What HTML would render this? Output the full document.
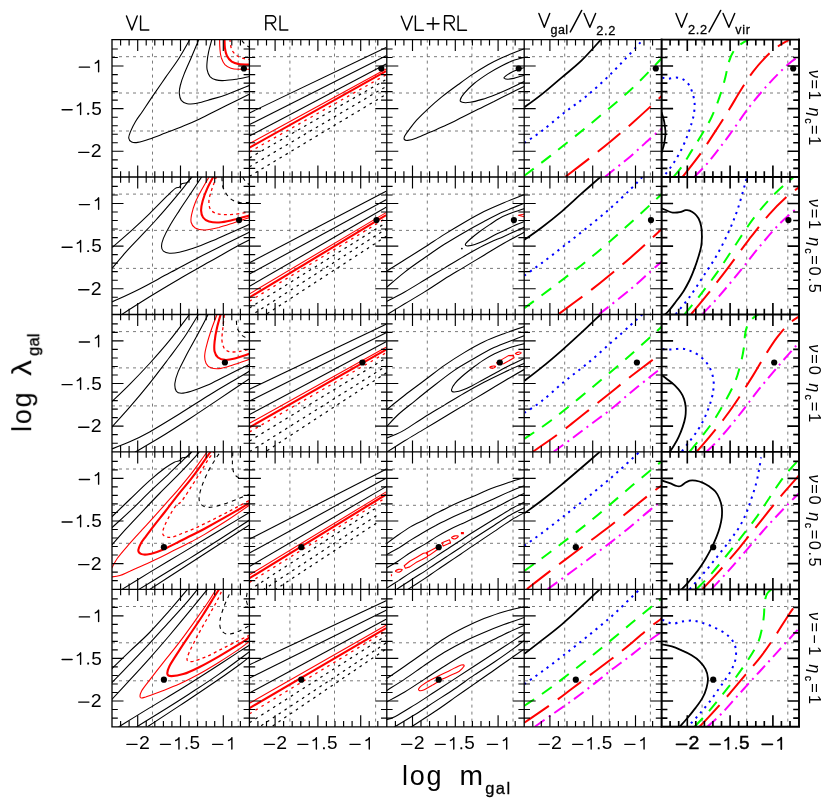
<!DOCTYPE html>
<html><head><meta charset="utf-8"><title>fig</title>
<style>html,body{margin:0;padding:0;background:#fff}body{width:830px;height:807px;position:relative;overflow:hidden;font-family:"Liberation Sans",sans-serif}</style>
</head><body>
<svg width="830" height="807" viewBox="0 0 830 807" style="position:absolute;left:0;top:0">
<rect width="830" height="807" fill="#fff"/>
<defs><clipPath id="c00"><rect x="112.0" y="39.6" width="137.4" height="137.4"/></clipPath><clipPath id="c01"><rect x="249.4" y="39.6" width="137.4" height="137.4"/></clipPath><clipPath id="c02"><rect x="386.8" y="39.6" width="137.4" height="137.4"/></clipPath><clipPath id="c03"><rect x="524.2" y="39.6" width="137.4" height="137.4"/></clipPath><clipPath id="c04"><rect x="661.6" y="39.6" width="137.4" height="137.4"/></clipPath><clipPath id="c10"><rect x="112.0" y="177.0" width="137.4" height="137.4"/></clipPath><clipPath id="c11"><rect x="249.4" y="177.0" width="137.4" height="137.4"/></clipPath><clipPath id="c12"><rect x="386.8" y="177.0" width="137.4" height="137.4"/></clipPath><clipPath id="c13"><rect x="524.2" y="177.0" width="137.4" height="137.4"/></clipPath><clipPath id="c14"><rect x="661.6" y="177.0" width="137.4" height="137.4"/></clipPath><clipPath id="c20"><rect x="112.0" y="314.5" width="137.4" height="137.4"/></clipPath><clipPath id="c21"><rect x="249.4" y="314.5" width="137.4" height="137.4"/></clipPath><clipPath id="c22"><rect x="386.8" y="314.5" width="137.4" height="137.4"/></clipPath><clipPath id="c23"><rect x="524.2" y="314.5" width="137.4" height="137.4"/></clipPath><clipPath id="c24"><rect x="661.6" y="314.5" width="137.4" height="137.4"/></clipPath><clipPath id="c30"><rect x="112.0" y="451.9" width="137.4" height="137.4"/></clipPath><clipPath id="c31"><rect x="249.4" y="451.9" width="137.4" height="137.4"/></clipPath><clipPath id="c32"><rect x="386.8" y="451.9" width="137.4" height="137.4"/></clipPath><clipPath id="c33"><rect x="524.2" y="451.9" width="137.4" height="137.4"/></clipPath><clipPath id="c34"><rect x="661.6" y="451.9" width="137.4" height="137.4"/></clipPath><clipPath id="c40"><rect x="112.0" y="589.4" width="137.4" height="137.4"/></clipPath><clipPath id="c41"><rect x="249.4" y="589.4" width="137.4" height="137.4"/></clipPath><clipPath id="c42"><rect x="386.8" y="589.4" width="137.4" height="137.4"/></clipPath><clipPath id="c43"><rect x="524.2" y="589.4" width="137.4" height="137.4"/></clipPath><clipPath id="c44"><rect x="661.6" y="589.4" width="137.4" height="137.4"/></clipPath></defs>
<path d="M152.5 39.6 V726.8M197.1 39.6 V726.8M238.2 39.6 V726.8M289.9 39.6 V726.8M334.5 39.6 V726.8M375.6 39.6 V726.8M427.3 39.6 V726.8M471.9 39.6 V726.8M513.0 39.6 V726.8M564.7 39.6 V726.8M609.3 39.6 V726.8M650.4 39.6 V726.8M702.1 39.6 V726.8M746.7 39.6 V726.8M787.8 39.6 V726.8M112.0 56.7 H799.0M112.0 93.0 H799.0M112.0 131.0 H799.0M112.0 194.1 H799.0M112.0 230.4 H799.0M112.0 268.4 H799.0M112.0 331.6 H799.0M112.0 367.9 H799.0M112.0 405.9 H799.0M112.0 469.0 H799.0M112.0 505.3 H799.0M112.0 543.3 H799.0M112.0 606.5 H799.0M112.0 642.8 H799.0M112.0 680.8 H799.0" stroke="#333" stroke-width="0.65" stroke-dasharray="3 4" fill="none"/>
<g clip-path="url(#c00)" fill="none" stroke-linecap="butt" stroke-linejoin="round">
<path d="M190.2 38.9C188.4 42.0 183.4 51.3 179.3 57.7C175.2 64.2 169.9 71.1 165.4 77.6C161.0 84.0 156.3 90.8 152.5 96.4C148.7 102.0 145.4 107.1 142.6 111.3C139.8 115.4 137.7 117.9 135.7 121.2C133.7 124.5 131.9 128.3 130.7 131.1C129.6 133.9 128.6 136.2 128.7 138.0C128.9 139.9 130.2 141.3 131.7 142.0C133.2 142.7 134.7 142.9 137.7 142.4C140.6 141.9 144.9 140.6 149.6 139.0C154.2 137.5 159.8 135.2 165.4 133.1C171.0 130.9 177.7 128.5 183.3 126.1C188.9 123.8 193.2 122.0 199.1 119.2C205.1 116.4 212.4 112.6 219.0 109.3C225.6 106.0 233.5 102.0 238.8 99.4C244.1 96.8 248.7 94.6 250.7 93.6" stroke="#000" stroke-width="1.1"/>
<path d="M199.1 38.9C197.8 42.0 193.7 52.0 191.2 57.7C188.7 63.5 186.1 69.0 184.3 73.6C182.4 78.2 181.1 82.2 180.3 85.5C179.5 88.8 179.1 90.9 179.3 93.4C179.5 95.9 180.0 98.6 181.3 100.4C182.6 102.1 184.6 103.2 187.2 103.7C189.9 104.2 193.2 104.1 197.1 103.3C201.1 102.6 206.1 100.9 211.0 99.4C216.0 97.9 220.3 96.8 226.9 94.4C233.5 92.0 246.7 86.5 250.7 84.9" stroke="#000" stroke-width="1.1"/>
<path d="M212.0 38.9C211.5 41.1 209.5 48.0 208.6 51.8C207.8 55.6 207.3 58.7 207.1 61.7C206.8 64.7 206.6 67.2 207.1 69.6C207.6 72.1 208.6 74.9 210.0 76.6C211.5 78.3 213.5 79.3 216.0 79.9C218.5 80.6 221.4 80.7 224.9 80.5C228.4 80.4 232.5 79.8 236.8 79.2C241.1 78.5 248.4 76.8 250.7 76.4" stroke="#000" stroke-width="1.1"/>
<path d="M219.6 38.9C219.6 40.7 219.7 46.7 220.0 49.8C220.2 52.9 220.5 55.3 221.3 57.7C222.2 60.2 223.3 62.9 224.9 64.7C226.5 66.4 228.5 67.5 230.9 68.2C233.2 69.0 235.5 69.1 238.8 69.2C242.1 69.4 248.7 69.2 250.7 69.2" stroke="#f00" stroke-width="1.1"/>
<path d="M224.5 38.9C224.6 40.4 224.5 45.0 224.9 47.8C225.3 50.6 225.7 53.4 226.9 55.8C228.0 58.1 229.9 60.3 231.8 61.7C233.8 63.1 235.6 63.6 238.8 64.1C241.9 64.6 248.7 64.6 250.7 64.7" stroke="#f00" stroke-width="2.1"/>
<path d="M229.9 38.9C230.1 40.6 230.5 46.2 231.4 48.8C232.4 51.5 234.1 53.2 235.8 54.8C237.5 56.3 239.3 57.3 241.8 58.1C244.2 59.0 249.2 59.5 250.7 59.7" stroke="#f00" stroke-width="1.3" stroke-dasharray="3 3.2"/>
<path d="M241.8 40.3C242.4 41.1 244.2 43.6 245.7 44.9C247.2 46.1 249.9 47.3 250.7 47.8" stroke="#000" stroke-width="1.1" stroke-dasharray="4 4"/>
</g>
<g clip-path="url(#c01)" fill="none" stroke-linecap="butt" stroke-linejoin="round">
<path d="M249.5 112.9 L386.1 47.4" stroke="#000" stroke-width="1.1"/>
<path d="M249.5 124.6 L386.1 55.8" stroke="#000" stroke-width="1.1"/>
<path d="M249.5 136.1 L386.1 63.9" stroke="#000" stroke-width="1.1"/>
<path d="M249.5 143.6 L386.1 69.0" stroke="#f00" stroke-width="1.1"/>
<path d="M249.5 147.6 L386.1 71.2" stroke="#f00" stroke-width="2.1"/>
<path d="M249.5 151.9 L386.1 74.8" stroke="#f00" stroke-width="1.3" stroke-dasharray="2.6 4.4"/>
<path d="M249.5 157.9 L386.1 79.5" stroke="#000" stroke-width="1.2" stroke-dasharray="2.6 4.4"/>
<path d="M249.5 166.8 L386.1 86.5" stroke="#000" stroke-width="1.2" stroke-dasharray="2.6 4.4"/>
<path d="M249.5 176.3 L386.1 94.4" stroke="#000" stroke-width="1.2" stroke-dasharray="2.6 4.4"/>
</g>
<g clip-path="url(#c02)" fill="none" stroke-linecap="butt" stroke-linejoin="round">
<path d="M525.7 48.2C523.7 49.0 517.8 51.2 513.8 52.8C509.8 54.4 506.2 55.8 501.9 57.7C497.6 59.7 493.0 61.9 488.0 64.7C483.1 67.5 477.1 71.3 472.1 74.6C467.2 77.9 463.2 80.9 458.3 84.5C453.3 88.1 447.5 92.3 442.4 96.4C437.3 100.5 431.8 105.3 427.5 109.3C423.2 113.3 419.8 116.7 416.6 120.2C413.5 123.7 410.7 127.5 408.7 130.1C406.7 132.8 405.5 134.5 404.7 136.1C404.0 137.6 403.8 138.7 404.3 139.4C404.8 140.2 405.7 140.6 407.7 140.4C409.8 140.2 412.8 139.4 416.6 138.0C420.4 136.6 425.6 134.2 430.5 132.1C435.5 129.9 441.1 127.6 446.4 125.1C451.7 122.7 456.9 119.9 462.2 117.2C467.5 114.6 472.8 111.9 478.1 109.3C483.4 106.6 488.7 104.0 494.0 101.4C499.2 98.7 504.5 96.0 509.8 93.4C515.1 90.8 523.0 87.0 525.7 85.7" stroke="#000" stroke-width="1.1"/>
<path d="M525.7 56.9C523.7 57.5 517.8 58.9 513.8 60.3C509.8 61.8 506.2 63.5 501.9 65.7C497.6 67.9 492.6 70.6 488.0 73.6C483.4 76.6 478.1 80.2 474.1 83.5C470.2 86.8 466.5 90.7 464.2 93.4C461.9 96.1 460.6 98.3 460.3 99.8C459.9 101.3 460.6 101.9 462.2 102.3C463.9 102.8 466.9 102.8 470.2 102.3C473.5 101.9 477.8 100.7 482.1 99.4C486.4 98.1 491.3 96.2 495.9 94.4C500.6 92.6 504.9 90.8 509.8 88.5C514.8 86.2 523.0 82.0 525.7 80.7" stroke="#000" stroke-width="1.1"/>
<path d="M525.7 67.3C524.4 67.7 520.4 68.6 517.8 69.6C515.1 70.6 512.0 72.0 509.8 73.2C507.7 74.4 505.8 75.7 504.9 76.6C503.9 77.4 503.8 77.9 504.3 78.4C504.8 78.8 506.3 79.2 507.8 79.2C509.4 79.2 511.8 78.8 513.8 78.4C515.8 77.9 517.8 77.2 519.7 76.6C521.7 76.0 524.7 75.1 525.7 74.8" stroke="#000" stroke-width="1.1"/>
</g>
<g clip-path="url(#c03)" fill="none" stroke-linecap="butt" stroke-linejoin="round">
<path d="M524.3 107.3C527.2 105.2 535.5 99.4 541.7 94.4C548.0 89.5 555.0 83.2 561.6 77.6C568.2 71.9 574.8 67.1 581.4 60.7C588.0 54.3 597.9 42.9 601.2 39.3" stroke="#000" stroke-width="1.8"/>
<path d="M524.3 143.0C527.2 141.0 535.2 136.1 541.7 131.1C548.3 126.1 555.9 119.2 563.5 113.3C571.1 107.3 579.4 102.0 587.3 95.4C595.3 88.8 603.9 80.7 611.1 73.6C618.4 66.5 626.0 58.1 631.0 52.8C635.9 47.5 638.9 44.1 640.9 41.9C642.9 39.7 642.5 39.9 642.9 39.5" stroke="#00f" stroke-width="2.0" stroke-dasharray="2.2 4.7"/>
<path d="M524.3 175.7C528.9 172.2 540.5 163.6 551.7 154.9C562.8 146.1 578.1 134.1 591.3 123.2C604.5 112.3 619.1 100.4 631.0 89.5C642.9 78.5 657.4 62.7 662.7 57.3" stroke="#0f0" stroke-width="2" stroke-dasharray="12 9.4"/>
<path d="M565.5 176.7C569.8 173.4 583.7 162.8 591.3 156.9C598.9 150.9 604.5 146.5 611.1 141.0C617.7 135.6 624.4 129.9 631.0 124.2C637.6 118.4 645.5 111.2 650.8 106.3C656.1 101.5 660.7 96.9 662.7 95.0" stroke="#f00" stroke-width="2" stroke-dasharray="29.5 11"/>
<path d="M605.2 176.7C609.5 173.2 623.4 162.3 631.0 155.9C638.6 149.4 645.5 142.7 650.8 138.0C656.1 133.3 660.7 129.4 662.7 127.7" stroke="#f0f" stroke-width="2" stroke-dasharray="12 5 2 5"/>
</g>
<g clip-path="url(#c04)" fill="none" stroke-linecap="butt" stroke-linejoin="round">
<path d="M661.5 112.3C661.9 113.7 663.4 117.7 664.1 121.2C664.7 124.7 665.5 129.3 665.5 133.1C665.5 136.9 664.7 140.7 664.1 144.0C663.4 147.3 661.9 151.4 661.5 152.9" stroke="#000" stroke-width="1.8"/>
<path d="M662.3 77.6C663.2 77.8 665.6 78.8 667.8 78.8C670.1 78.8 673.3 77.5 675.8 77.6C678.3 77.6 680.6 78.0 682.7 79.2C684.9 80.3 687.0 82.1 688.7 84.5C690.3 86.9 691.6 90.3 692.6 93.4C693.6 96.6 694.4 100.0 694.6 103.3C694.8 106.6 694.5 109.9 694.0 113.3C693.5 116.6 692.7 119.5 691.6 123.2C690.6 126.8 689.3 130.8 687.7 135.1C686.0 139.4 684.0 144.3 681.7 148.9C679.4 153.6 676.4 158.7 673.8 162.8C671.1 167.0 667.8 171.2 665.9 173.7C663.9 176.2 662.9 177.0 662.3 177.7" stroke="#00f" stroke-width="2.0" stroke-dasharray="2.2 4.7"/>
<path d="M673.8 176.7C675.1 175.0 678.7 171.1 681.7 166.8C684.7 162.5 688.3 156.2 691.6 150.9C694.9 145.6 698.2 140.7 701.5 135.1C704.9 129.4 708.5 123.5 711.5 117.2C714.4 110.9 717.1 104.0 719.4 97.4C721.7 90.8 723.9 83.2 725.3 77.6C726.8 71.9 727.0 68.0 728.3 63.7C729.6 59.4 731.1 55.1 733.3 51.8C735.4 48.5 738.6 45.9 741.2 43.9C743.8 41.8 747.8 40.2 749.1 39.5" stroke="#0f0" stroke-width="2" stroke-dasharray="12 9.4"/>
<path d="M682.7 176.7C685.5 173.1 694.1 162.5 699.6 154.9C705.0 147.3 710.5 138.7 715.4 131.1C720.4 123.5 725.0 116.2 729.3 109.3C733.6 102.3 737.2 95.7 741.2 89.5C745.2 83.2 748.8 77.2 753.1 71.6C757.4 66.0 762.7 60.1 767.0 55.8C771.3 51.5 775.1 48.6 778.9 45.8C782.7 43.1 788.0 40.6 789.8 39.5" stroke="#f00" stroke-width="2" stroke-dasharray="29.5 11"/>
<path d="M694.6 176.7C697.1 174.1 703.7 167.8 709.5 160.8C715.3 153.9 722.7 144.0 729.3 135.1C735.9 126.1 742.5 115.9 749.1 107.3C755.7 98.7 762.4 90.8 769.0 83.5C775.6 76.2 783.6 68.3 788.8 63.7C794.0 59.1 798.4 57.1 800.3 55.8" stroke="#f0f" stroke-width="2" stroke-dasharray="12 5 2 5"/>
</g>
<g clip-path="url(#c10)" fill="none" stroke-linecap="butt" stroke-linejoin="round">
<path d="M112.3 247.3C115.5 244.5 125.5 236.0 131.7 230.4C137.9 224.8 143.6 219.4 149.6 213.6C155.5 207.8 163.1 199.9 167.4 195.7C171.7 191.5 173.4 189.8 175.3 188.4C177.3 187.0 178.2 188.0 179.3 187.2C180.4 186.4 180.4 184.6 181.7 183.8C183.0 183.0 185.5 183.7 187.2 182.4C189.0 181.2 191.4 177.5 192.2 176.5" stroke="#000" stroke-width="1.1"/>
<path d="M112.3 268.1C114.5 265.5 121.2 257.4 125.8 252.2C130.3 247.1 134.7 242.7 139.7 237.4C144.6 232.1 150.6 226.0 155.5 220.5C160.5 215.1 164.8 210.1 169.4 204.7C174.0 199.2 179.5 192.5 183.3 187.8C187.1 183.1 190.7 178.4 192.2 176.5" stroke="#000" stroke-width="1.1"/>
<path d="M202.1 176.3C200.3 179.0 195.0 187.0 191.2 192.8C187.4 198.5 182.9 205.0 179.3 210.6C175.7 216.2 172.0 221.8 169.4 226.5C166.7 231.1 164.8 235.1 163.4 238.4C162.1 241.7 161.5 244.1 161.5 246.3C161.5 248.4 162.1 250.1 163.4 251.2C164.8 252.4 166.7 253.1 169.4 253.2C172.0 253.4 175.3 253.1 179.3 252.2C183.3 251.4 187.9 250.1 193.2 248.3C198.5 246.5 205.1 243.8 211.0 241.3C217.0 238.9 222.3 236.3 228.9 233.4C235.5 230.5 247.0 225.5 250.7 223.9" stroke="#000" stroke-width="1.1"/>
<path d="M111.5 302.2C116.2 300.0 130.0 293.8 139.7 288.9C149.3 284.1 159.5 278.3 169.4 273.1C179.3 267.8 189.2 262.3 199.1 257.2C209.0 252.1 220.3 246.6 228.9 242.3C237.5 238.1 247.0 233.4 250.7 231.6" stroke="#000" stroke-width="1.1"/>
<path d="M120.8 315.1C125.6 312.0 139.8 302.9 149.6 296.8C159.3 290.8 169.4 284.8 179.3 279.0C189.2 273.2 199.1 267.8 209.0 262.1C219.0 256.5 231.8 249.1 238.8 245.3C245.7 241.5 248.7 240.2 250.7 239.2" stroke="#000" stroke-width="1.1"/>
<path d="M209.4 176.3C208.1 178.7 203.5 186.4 201.1 190.8C198.7 195.2 196.8 198.7 195.2 202.7C193.6 206.6 192.3 211.3 191.6 214.6C190.9 217.9 190.6 220.2 191.2 222.5C191.8 224.7 192.9 226.8 195.2 228.0C197.5 229.3 201.1 230.1 205.1 230.0C209.0 229.9 214.0 228.7 219.0 227.5C223.9 226.2 229.5 224.2 234.8 222.5C240.1 220.8 248.0 218.0 250.7 217.1" stroke="#f00" stroke-width="1.1"/>
<path d="M213.6 176.3C212.5 178.4 208.9 184.7 207.1 188.8C205.2 192.9 203.7 197.1 202.7 200.7C201.7 204.3 201.0 207.8 201.1 210.6C201.2 213.4 201.8 215.7 203.1 217.5C204.4 219.4 206.4 220.7 209.0 221.5C211.7 222.3 215.3 222.7 219.0 222.5C222.6 222.3 225.6 221.7 230.9 220.5C236.1 219.3 247.4 216.1 250.7 215.2" stroke="#f00" stroke-width="2.1"/>
<path d="M216.6 176.3C215.8 178.4 213.3 184.9 212.0 188.8C210.8 192.7 209.4 196.4 209.0 199.7C208.7 203.0 209.0 206.4 210.0 208.6C211.0 210.8 212.8 212.0 215.0 213.0C217.1 214.0 219.6 214.4 222.9 214.6C226.2 214.8 230.2 214.6 234.8 214.2C239.4 213.7 248.0 212.2 250.7 211.8" stroke="#f00" stroke-width="1.3" stroke-dasharray="3 3.2"/>
<path d="M221.9 177.3C222.1 178.9 222.1 183.9 222.9 186.8C223.8 189.7 225.2 192.5 226.9 194.7C228.5 197.0 230.5 199.0 232.8 200.3C235.2 201.6 237.8 202.3 240.8 202.7C243.7 203.0 249.0 202.3 250.7 202.3" stroke="#000" stroke-width="1.1" stroke-dasharray="4 4"/>
<path d="M242.8 177.3C243.3 178.2 245.0 181.1 246.3 182.4C247.6 183.8 250.0 184.8 250.7 185.2" stroke="#000" stroke-width="1.1" stroke-dasharray="4 4"/>
</g>
<g clip-path="url(#c11)" fill="none" stroke-linecap="butt" stroke-linejoin="round">
<path d="M249.5 262.7 L386.1 191.2" stroke="#000" stroke-width="1.1"/>
<path d="M249.5 274.0 L386.1 199.7" stroke="#000" stroke-width="1.1"/>
<path d="M249.5 286.3 L386.1 207.2" stroke="#000" stroke-width="1.1"/>
<path d="M249.5 293.9 L386.1 212.6" stroke="#f00" stroke-width="1.1"/>
<path d="M249.5 297.4 L386.1 215.2" stroke="#f00" stroke-width="2.1"/>
<path d="M249.5 301.2 L386.1 218.1" stroke="#f00" stroke-width="1.3" stroke-dasharray="2.6 4.4"/>
<path d="M249.5 307.9 L386.7 222.3" stroke="#000" stroke-width="1.2" stroke-dasharray="2.6 4.4"/>
<path d="M249.5 316.5 L386.7 228.6" stroke="#000" stroke-width="1.2" stroke-dasharray="2.6 4.4"/>
<path d="M249.5 325.2 L386.7 236.0" stroke="#000" stroke-width="1.2" stroke-dasharray="2.6 4.4"/>
</g>
<g clip-path="url(#c12)" fill="none" stroke-linecap="butt" stroke-linejoin="round">
<path d="M385.9 271.5C389.0 269.5 398.3 263.8 404.7 259.8C411.2 255.7 418.0 251.5 424.6 247.3C431.2 243.1 437.8 238.5 444.4 234.4C451.0 230.3 457.6 226.3 464.2 222.5C470.8 218.7 477.4 214.9 484.0 211.6C490.7 208.3 496.9 205.6 503.9 202.7C510.8 199.8 522.0 195.6 525.7 194.1" stroke="#000" stroke-width="1.1"/>
<path d="M385.9 287.9C389.0 285.3 398.3 277.1 404.7 272.1C411.2 267.0 418.0 262.4 424.6 257.8C431.2 253.2 437.8 248.5 444.4 244.3C451.0 240.1 457.6 236.2 464.2 232.4C470.8 228.6 477.4 225.0 484.0 221.5C490.7 218.0 496.9 214.7 503.9 211.6C510.8 208.5 522.0 204.2 525.7 202.7" stroke="#000" stroke-width="1.1"/>
<path d="M385.9 301.8C389.0 300.2 398.3 295.5 404.7 291.9C411.2 288.3 418.0 284.0 424.6 280.0C431.2 276.0 437.8 272.1 444.4 268.1C451.0 264.1 457.6 260.0 464.2 256.2C470.8 252.4 477.4 248.6 484.0 245.3C490.7 242.0 496.9 239.5 503.9 236.4C510.8 233.2 522.0 228.1 525.7 226.5" stroke="#000" stroke-width="1.1"/>
<path d="M385.9 315.3C389.0 313.4 398.3 307.7 404.7 303.8C411.2 299.9 418.0 296.0 424.6 291.9C431.2 287.8 437.8 283.1 444.4 279.0C451.0 274.9 457.6 271.1 464.2 267.1C470.8 263.1 477.4 259.2 484.0 255.2C490.7 251.2 496.9 247.3 503.9 243.3C510.8 239.3 522.0 233.4 525.7 231.4" stroke="#000" stroke-width="1.1"/>
<path d="M525.3 208.3C522.7 209.2 513.8 212.1 509.5 213.7C505.2 215.4 502.9 216.3 499.6 218.2C496.3 220.0 493.0 222.4 489.7 224.6C486.3 226.8 483.0 229.1 479.7 231.5C476.4 234.0 472.1 237.5 469.8 239.5C467.5 241.5 466.6 242.5 465.9 243.4C465.2 244.4 465.2 245.0 465.7 245.4C466.1 245.8 466.8 246.1 468.3 245.9C469.9 245.8 472.1 245.3 474.8 244.4C477.5 243.5 481.4 242.0 484.7 240.5C488.0 238.9 491.3 236.7 494.6 235.0C497.9 233.4 501.2 232.1 504.5 230.6C507.8 229.0 511.0 227.2 514.4 225.6C517.9 224.0 523.5 221.9 525.3 221.1" stroke="#000" stroke-width="1.1"/>
<path d="M525.3 214.0 L518.4 215.2 L525.3 217.1" stroke="#f00" stroke-width="1.1"/>
</g>
<g clip-path="url(#c13)" fill="none" stroke-linecap="butt" stroke-linejoin="round">
<path d="M524.3 239.9C527.2 237.9 535.5 232.2 541.7 227.5C548.0 222.7 555.0 217.2 561.6 211.6C568.2 206.0 574.8 199.6 581.4 193.7C588.0 187.9 597.9 179.2 601.2 176.3" stroke="#000" stroke-width="1.8"/>
<path d="M524.3 275.6C527.2 273.6 535.2 268.0 541.7 263.1C548.3 258.3 555.9 252.2 563.5 246.3C571.1 240.3 579.4 233.9 587.3 227.5C595.3 221.0 603.9 214.1 611.1 207.6C618.4 201.2 625.7 194.0 631.0 188.8C636.2 183.6 640.9 178.4 642.9 176.3" stroke="#00f" stroke-width="2.0" stroke-dasharray="2.2 4.7"/>
<path d="M524.3 308.1C528.9 304.8 540.5 296.4 551.7 287.9C562.8 279.4 578.1 268.1 591.3 257.2C604.5 246.3 619.1 233.2 631.0 222.5C642.9 211.8 657.4 198.0 662.7 193.2" stroke="#0f0" stroke-width="2" stroke-dasharray="12 9.4"/>
<path d="M558.6 314.1C564.0 310.1 582.5 296.6 591.3 289.9C600.1 283.2 604.5 279.5 611.1 274.0C617.7 268.6 624.4 263.0 631.0 257.2C637.6 251.4 645.5 244.2 650.8 239.3C656.1 234.5 660.7 229.9 662.7 228.0" stroke="#f00" stroke-width="2" stroke-dasharray="29.5 11"/>
<path d="M599.2 314.1C604.5 309.9 622.4 296.1 631.0 288.9C639.6 281.7 645.5 275.8 650.8 271.1C656.1 266.4 660.7 262.5 662.7 260.8" stroke="#f0f" stroke-width="2" stroke-dasharray="12 5 2 5"/>
</g>
<g clip-path="url(#c14)" fill="none" stroke-linecap="butt" stroke-linejoin="round">
<path d="M660.9 208.0C662.1 208.5 665.9 210.2 667.8 211.0C669.8 211.8 670.8 212.4 672.8 212.6C674.8 212.8 677.6 212.6 679.7 212.2C681.9 211.8 684.0 210.5 685.7 210.2C687.3 209.9 688.2 210.0 689.7 210.6C691.1 211.2 693.1 212.3 694.6 213.6C696.1 214.9 697.5 216.4 698.6 218.5C699.7 220.7 700.6 223.5 701.2 226.5C701.7 229.4 701.9 233.1 701.9 236.4C701.9 239.7 701.7 243.0 701.2 246.3C700.6 249.6 699.7 252.6 698.6 256.2C697.5 259.8 696.1 264.1 694.6 268.1C693.1 272.1 691.5 276.2 689.7 280.0C687.8 283.8 686.0 287.3 683.7 290.9C681.4 294.5 678.3 298.5 675.8 301.8C673.3 305.1 670.8 308.5 668.8 310.7C666.9 313.0 664.7 314.5 663.9 315.3" stroke="#000" stroke-width="1.8"/>
<path d="M675.8 314.1C678.1 311.2 685.0 303.2 689.7 296.8C694.3 290.5 698.9 283.1 703.5 276.0C708.2 268.9 713.1 261.8 717.4 254.2C721.7 246.6 726.0 237.7 729.3 230.4C732.6 223.2 734.9 217.2 737.2 210.6C739.5 204.0 741.5 196.5 743.2 190.8C744.8 185.1 746.5 178.7 747.1 176.3" stroke="#00f" stroke-width="2.0" stroke-dasharray="2.2 4.7"/>
<path d="M684.7 314.1C687.2 311.1 694.1 302.9 699.6 295.9C705.0 288.8 711.8 280.0 717.4 272.1C723.0 264.1 728.0 256.2 733.3 248.3C738.6 240.3 744.2 231.4 749.1 224.5C754.1 217.5 758.4 212.1 763.0 206.6C767.6 201.2 771.8 196.7 776.9 191.8C782.0 186.8 790.9 179.4 793.7 176.9" stroke="#0f0" stroke-width="2" stroke-dasharray="12 9.4"/>
<path d="M691.2 314.1C694.3 310.4 703.1 299.9 709.5 291.9C715.8 283.9 722.7 274.9 729.3 266.1C735.9 257.4 742.5 247.9 749.1 239.3C755.7 230.8 762.7 221.7 769.0 214.6C775.2 207.5 781.6 201.4 786.8 196.7C792.0 192.0 798.0 188.1 800.3 186.4" stroke="#f00" stroke-width="2" stroke-dasharray="29.5 11"/>
<path d="M702.5 314.1C705.3 311.1 713.3 302.9 719.4 295.9C725.5 288.8 732.6 280.2 739.2 272.1C745.8 264.0 752.4 255.2 759.0 247.3C765.7 239.3 772.0 231.5 778.9 224.5C785.7 217.5 796.7 208.5 800.3 205.2" stroke="#f0f" stroke-width="2" stroke-dasharray="12 5 2 5"/>
</g>
<g clip-path="url(#c20)" fill="none" stroke-linecap="butt" stroke-linejoin="round">
<path d="M110.9 402.5C114.0 399.5 123.3 390.8 129.7 384.3C136.2 377.8 143.0 370.7 149.6 363.5C156.2 356.2 162.6 349.0 169.4 340.7C176.2 332.3 186.7 318.0 190.2 313.5" stroke="#000" stroke-width="1.1"/>
<path d="M110.9 428.1C114.0 424.6 123.3 414.5 129.7 407.1C136.2 399.6 143.0 391.5 149.6 383.3C156.2 375.0 163.4 365.4 169.4 357.5C175.3 349.6 180.3 343.1 185.3 335.7C190.2 328.3 196.8 317.0 199.1 313.3" stroke="#000" stroke-width="1.1"/>
<path d="M208.6 313.5C207.1 316.5 202.7 325.1 199.1 331.7C195.6 338.4 190.7 346.9 187.2 353.5C183.8 360.2 180.4 366.4 178.3 371.4C176.3 376.3 175.3 380.0 174.9 383.3C174.6 386.6 175.3 389.6 176.3 391.2C177.4 392.9 178.8 393.2 181.3 393.2C183.8 393.2 186.9 392.5 191.2 391.2C195.5 389.9 201.1 387.9 207.1 385.3C213.0 382.6 219.6 379.0 226.9 375.4C234.2 371.8 246.7 365.6 250.7 363.7" stroke="#000" stroke-width="1.1"/>
<path d="M110.9 449.3C114.0 448.1 123.3 444.7 129.7 441.8C136.2 438.9 141.3 436.5 149.6 431.9C157.8 427.2 169.4 420.1 179.3 414.0C189.2 407.9 200.8 400.3 209.0 395.2C217.3 390.1 221.9 387.4 228.9 383.3C235.8 379.2 247.0 372.5 250.7 370.4" stroke="#000" stroke-width="1.1"/>
<path d="M134.1 452.7C138.3 450.2 150.3 443.4 159.5 437.8C168.7 432.2 179.3 425.4 189.2 419.0C199.1 412.5 208.7 406.0 219.0 399.1C229.2 392.3 245.4 381.5 250.7 377.9" stroke="#000" stroke-width="1.1"/>
<path d="M217.4 313.5C216.5 315.9 213.7 322.8 212.0 327.8C210.3 332.8 208.3 339.0 207.1 343.6C205.8 348.3 204.8 352.2 204.7 355.5C204.5 358.8 205.0 361.4 206.1 363.5C207.1 365.5 208.6 367.0 211.0 367.8C213.5 368.7 217.3 368.9 220.9 368.4C224.6 368.0 227.9 366.6 232.8 365.0C237.8 363.5 247.7 359.9 250.7 358.9" stroke="#f00" stroke-width="1.1"/>
<path d="M220.9 313.5C220.3 315.9 218.0 323.1 217.0 327.8C215.9 332.5 215.0 337.7 214.6 341.7C214.2 345.6 214.0 348.9 214.6 351.6C215.2 354.2 216.2 356.1 218.0 357.5C219.7 358.9 222.1 359.7 224.9 359.9C227.7 360.1 230.5 359.6 234.8 358.5C239.1 357.4 248.0 354.2 250.7 353.4" stroke="#f00" stroke-width="2.1"/>
<path d="M224.3 314.9C224.1 317.0 223.3 323.6 222.9 327.8C222.5 331.9 221.8 336.4 221.9 339.7C222.1 343.0 222.8 345.6 223.9 347.6C225.1 349.6 226.4 350.9 228.9 351.6C231.4 352.2 235.2 352.0 238.8 351.6C242.4 351.1 248.7 349.3 250.7 348.8" stroke="#f00" stroke-width="1.3" stroke-dasharray="3 3.2"/>
<path d="M236.4 320.8C236.5 322.0 236.5 325.6 237.2 327.8C237.9 329.9 239.0 332.1 240.4 333.7C241.7 335.3 243.4 336.5 245.1 337.3C246.8 338.1 249.8 338.1 250.7 338.3" stroke="#000" stroke-width="1.1" stroke-dasharray="4 4"/>
</g>
<g clip-path="url(#c21)" fill="none" stroke-linecap="butt" stroke-linejoin="round">
<path d="M249.5 389.2 L386.1 324.2" stroke="#000" stroke-width="1.1"/>
<path d="M249.5 401.1 L386.1 332.7" stroke="#000" stroke-width="1.1"/>
<path d="M249.5 414.6 L386.1 341.7" stroke="#000" stroke-width="1.1"/>
<path d="M249.5 423.3 L386.1 347.2" stroke="#f00" stroke-width="1.1"/>
<path d="M249.5 427.3 L386.1 349.6" stroke="#f00" stroke-width="2.1"/>
<path d="M249.5 431.9 L386.1 352.8" stroke="#f00" stroke-width="1.3" stroke-dasharray="2.6 4.4"/>
<path d="M249.5 441.0 L386.7 357.7" stroke="#000" stroke-width="1.2" stroke-dasharray="2.6 4.4"/>
<path d="M249.5 451.7 L386.7 365.8" stroke="#000" stroke-width="1.2" stroke-dasharray="2.6 4.4"/>
<path d="M249.5 462.2 L386.7 372.6" stroke="#000" stroke-width="1.2" stroke-dasharray="2.6 4.4"/>
</g>
<g clip-path="url(#c22)" fill="none" stroke-linecap="butt" stroke-linejoin="round">
<path d="M385.9 410.3C389.0 407.7 398.3 400.2 404.7 395.2C411.2 390.2 418.0 385.3 424.6 380.3C431.2 375.4 437.8 370.1 444.4 365.4C451.0 360.8 457.6 356.5 464.2 352.6C470.8 348.6 477.4 344.8 484.0 341.7C490.7 338.5 496.9 336.3 503.9 333.7C510.8 331.1 522.0 327.4 525.7 326.2" stroke="#000" stroke-width="1.1"/>
<path d="M385.9 427.3C388.1 425.1 394.0 418.4 398.8 414.0C403.6 409.7 408.7 405.9 414.7 401.1C420.6 396.3 427.9 390.4 434.5 385.3C441.1 380.1 447.7 374.9 454.3 370.4C460.9 365.9 467.5 362.3 474.1 358.5C480.7 354.7 487.4 350.7 494.0 347.6C500.6 344.5 508.5 341.8 513.8 339.7C519.1 337.6 523.7 335.9 525.7 335.1" stroke="#000" stroke-width="1.1"/>
<path d="M385.9 438.4C387.4 437.8 391.7 436.3 394.8 434.8C398.0 433.4 399.8 432.9 404.7 429.9C409.7 426.9 418.0 421.1 424.6 417.0C431.2 412.9 437.8 409.1 444.4 405.1C451.0 401.1 457.6 397.0 464.2 393.2C470.8 389.4 477.4 385.8 484.0 382.3C490.7 378.8 496.9 375.7 503.9 372.4C510.8 369.1 522.0 364.3 525.7 362.7" stroke="#000" stroke-width="1.1"/>
<path d="M385.9 452.7C389.0 450.7 398.3 444.8 404.7 440.8C411.2 436.8 418.0 432.9 424.6 428.9C431.2 424.9 437.8 421.0 444.4 417.0C451.0 413.0 457.6 409.1 464.2 405.1C470.8 401.1 477.4 397.2 484.0 393.2C490.7 389.2 496.9 385.4 503.9 381.3C510.8 377.2 522.0 370.7 525.7 368.6" stroke="#000" stroke-width="1.1"/>
<path d="M525.3 343.5C522.7 344.2 514.6 346.0 509.5 347.7C504.4 349.4 499.1 351.5 494.6 353.7C490.1 355.8 486.5 358.1 482.7 360.6C478.9 363.1 475.3 365.9 471.8 368.5C468.3 371.2 464.7 374.0 461.9 376.5C459.1 378.9 456.6 381.3 455.0 383.4C453.3 385.5 452.2 387.5 451.8 388.9C451.3 390.2 451.5 391.0 452.2 391.5C452.9 392.0 454.3 392.0 455.9 391.8C457.6 391.6 459.3 391.3 461.9 390.3C464.5 389.3 468.3 387.6 471.8 385.9C475.3 384.1 478.9 382.0 482.7 379.9C486.5 377.9 490.1 375.9 494.6 373.5C499.1 371.1 504.4 368.1 509.5 365.6C514.6 363.0 522.7 359.3 525.3 358.0" stroke="#000" stroke-width="1.1"/>
<path d="M496.6 362.6 L508.5 355.6 L513.4 355.4 L514.1 357.8 L503.5 363.8 L497.6 364.3Z" stroke="#f00" stroke-width="1.1"/>
<path d="M489.7 367.3C489.6 367.0 491.6 366.2 492.6 366.1C493.6 365.9 495.6 366.2 495.6 366.5C495.6 366.9 493.8 368.2 492.8 368.3C491.8 368.5 489.7 367.7 489.7 367.3Z" stroke="#f00" stroke-width="1.1"/>
<path d="M515.4 353.5C515.4 353.1 517.4 352.2 518.4 352.1C519.4 351.9 521.1 352.3 521.2 352.7C521.2 353.1 519.6 354.3 518.6 354.5C517.6 354.6 515.5 353.9 515.4 353.5Z" stroke="#f00" stroke-width="1.1"/>
</g>
<g clip-path="url(#c23)" fill="none" stroke-linecap="butt" stroke-linejoin="round">
<path d="M524.3 380.9C527.2 378.7 535.5 372.5 541.7 367.4C548.0 362.4 555.0 356.4 561.6 350.6C568.2 344.8 574.7 338.9 581.4 332.7C588.1 326.6 598.2 316.7 601.6 313.5" stroke="#000" stroke-width="1.8"/>
<path d="M524.3 413.0C527.2 411.0 535.2 406.3 541.7 401.1C548.3 396.0 555.9 388.6 563.5 382.3C571.1 376.0 579.4 370.1 587.3 363.5C595.3 356.9 603.9 349.1 611.1 342.6C618.4 336.2 625.7 329.6 631.0 324.8C636.2 320.0 640.9 315.7 642.9 313.9" stroke="#00f" stroke-width="2.0" stroke-dasharray="2.2 4.7"/>
<path d="M524.3 438.8C528.9 435.7 540.5 428.4 551.7 420.0C562.8 411.5 578.1 399.1 591.3 388.2C604.5 377.3 619.1 364.9 631.0 354.5C642.9 344.1 657.4 330.6 662.7 325.8" stroke="#0f0" stroke-width="2" stroke-dasharray="12 9.4"/>
<path d="M532.8 451.7C536.0 449.5 545.2 443.4 551.7 438.8C558.1 434.2 564.9 429.1 571.5 423.9C578.1 418.8 584.7 413.4 591.3 408.1C597.9 402.8 604.5 397.5 611.1 392.2C617.7 386.9 624.2 381.6 631.0 376.3C637.7 371.1 646.5 364.6 651.8 360.5C657.1 356.4 660.9 353.1 662.7 351.6" stroke="#f00" stroke-width="2" stroke-dasharray="29.5 11"/>
<path d="M553.6 451.7C556.6 449.5 565.2 443.4 571.5 438.8C577.8 434.2 584.7 428.9 591.3 423.9C597.9 419.0 604.5 414.4 611.1 409.1C617.7 403.8 624.4 397.7 631.0 392.2C637.6 386.8 645.5 380.5 650.8 376.3C656.1 372.2 660.7 368.6 662.7 367.0" stroke="#f0f" stroke-width="2" stroke-dasharray="12 5 2 5"/>
</g>
<g clip-path="url(#c24)" fill="none" stroke-linecap="butt" stroke-linejoin="round">
<path d="M660.9 374.6C662.1 375.4 665.5 377.9 667.8 379.7C670.2 381.5 672.6 383.2 674.8 385.3C676.9 387.4 679.2 389.9 680.7 392.2C682.3 394.5 683.3 396.7 684.1 399.1C684.9 401.6 685.5 404.1 685.7 407.1C685.9 410.1 685.8 413.7 685.3 417.0C684.8 420.3 683.8 423.6 682.7 426.9C681.6 430.2 680.2 433.7 678.7 436.8C677.3 440.0 675.4 443.1 673.8 445.7C672.2 448.4 670.0 451.5 669.2 452.7" stroke="#000" stroke-width="1.8"/>
<path d="M662.3 349.0C663.9 349.1 668.6 349.6 671.8 349.6C675.0 349.5 678.7 348.4 681.7 348.6C684.7 348.8 687.0 349.6 689.7 350.6C692.3 351.6 694.9 352.7 697.6 354.5C700.2 356.4 703.4 359.0 705.5 361.5C707.7 364.0 709.1 366.4 710.5 369.4C711.8 372.4 712.9 376.0 713.4 379.3C713.9 382.6 713.8 385.9 713.4 389.2C713.1 392.5 712.5 395.5 711.5 399.1C710.5 402.8 709.1 406.9 707.5 411.0C705.8 415.2 703.7 420.0 701.5 423.9C699.4 427.9 696.9 431.5 694.6 434.8C692.3 438.1 689.8 441.0 687.7 443.8C685.5 446.6 682.7 450.4 681.7 451.7" stroke="#00f" stroke-width="2.0" stroke-dasharray="2.2 4.7"/>
<path d="M689.7 451.7C691.6 449.2 697.6 441.9 701.5 436.8C705.5 431.7 709.5 426.9 713.4 421.0C717.4 415.0 721.7 407.7 725.3 401.1C729.0 394.5 732.6 387.9 735.3 381.3C737.9 374.7 739.7 367.4 741.2 361.5C742.7 355.5 743.5 350.2 744.2 345.6C744.8 341.0 744.5 337.4 745.2 333.7C745.8 330.1 746.8 326.5 748.1 323.8C749.5 321.2 751.3 319.5 753.1 317.9C754.9 316.2 758.1 314.6 759.0 313.9" stroke="#0f0" stroke-width="2" stroke-dasharray="12 9.4"/>
<path d="M696.6 451.7C698.7 449.2 704.7 442.6 709.5 436.8C714.3 431.0 720.4 423.6 725.3 417.0C730.3 410.4 734.6 404.1 739.2 397.2C743.8 390.2 748.8 382.3 753.1 375.4C757.4 368.4 761.0 361.8 765.0 355.5C769.0 349.3 772.9 343.0 776.9 337.7C780.9 332.4 784.9 327.5 788.8 323.8C792.7 320.1 798.4 316.9 800.3 315.5" stroke="#f00" stroke-width="2" stroke-dasharray="29.5 11"/>
<path d="M706.5 451.7C708.7 449.5 713.9 444.9 719.4 438.8C724.8 432.7 732.6 423.3 739.2 415.0C745.8 406.8 752.4 397.5 759.0 389.2C765.7 381.0 772.0 373.5 778.9 365.4C785.7 357.4 796.7 345.0 800.3 340.9" stroke="#f0f" stroke-width="2" stroke-dasharray="12 5 2 5"/>
</g>
<g clip-path="url(#c30)" fill="none" stroke-linecap="butt" stroke-linejoin="round">
<path d="M110.9 517.7C114.0 514.7 123.3 505.7 129.7 499.5C136.2 493.3 143.6 485.9 149.6 480.6C155.5 475.4 161.3 470.8 165.4 467.8C169.6 464.7 172.0 463.4 174.3 462.2C176.7 461.0 178.0 461.5 179.3 460.8C180.6 460.1 181.0 458.5 182.3 457.8C183.6 457.2 185.6 457.9 187.2 456.9C188.9 455.8 191.4 452.2 192.2 451.3" stroke="#000" stroke-width="1.1"/>
<path d="M110.9 528.6C114.0 525.7 123.3 517.5 129.7 511.4C136.2 505.3 143.0 498.3 149.6 491.9C156.2 485.6 163.8 478.7 169.4 473.3C175.0 468.0 179.5 463.5 183.3 459.8C187.1 456.2 190.7 452.7 192.2 451.3" stroke="#000" stroke-width="1.1"/>
<path d="M110.9 546.1C113.4 543.3 121.0 534.5 125.8 529.2C130.6 523.9 134.0 520.3 139.7 514.3C145.3 508.4 152.9 500.3 159.5 493.5C166.1 486.8 173.4 479.8 179.3 473.7C185.3 467.6 191.8 460.6 195.2 456.9C198.6 453.1 199.0 452.2 199.7 451.3" stroke="#000" stroke-width="1.1"/>
<path d="M120.8 590.1C125.6 587.1 139.8 578.4 149.6 572.4C159.3 566.5 169.4 560.5 179.3 554.6C189.2 548.6 199.1 542.7 209.0 536.8C219.0 530.8 231.8 523.1 238.8 518.9C245.7 514.7 248.7 513.0 250.7 511.8" stroke="#000" stroke-width="1.1"/>
<path d="M137.7 590.1C141.3 587.9 150.9 582.1 159.5 576.8C168.1 571.5 179.3 564.7 189.2 558.6C199.1 552.4 208.7 546.3 219.0 539.7C229.2 533.2 245.4 522.7 250.7 519.3" stroke="#000" stroke-width="1.1"/>
<path d="M148.6 590.1C153.7 586.8 169.2 576.8 179.3 570.3C189.4 563.8 199.1 557.4 209.0 551.0C219.0 544.6 231.8 536.3 238.8 531.8C245.7 527.3 248.7 525.4 250.7 524.1" stroke="#000" stroke-width="1.1"/>
<path d="M249.6 505.0C246.2 507.4 236.3 514.4 228.9 519.3C221.5 524.1 211.2 530.4 205.0 534.1C198.8 537.8 196.0 539.2 191.7 541.5C187.4 543.8 183.4 545.6 179.3 547.7C175.2 549.8 171.1 551.8 167.0 553.9C162.9 556.0 158.7 558.1 154.6 560.1C150.5 562.1 146.3 563.8 142.2 565.7C138.1 567.6 133.5 569.6 129.8 571.3C126.1 572.9 123.1 574.6 119.9 575.6C116.7 576.6 112.1 576.8 110.5 577.0" stroke="#f00" stroke-width="1.1"/>
<path d="M110.5 570.5C111.7 568.5 114.2 562.7 117.4 558.2C120.6 553.7 125.7 548.1 129.8 543.4C133.9 538.6 138.1 534.2 142.2 529.7C146.3 525.2 150.6 520.6 154.6 516.1C158.6 511.6 162.5 507.3 166.4 502.9C170.3 498.5 174.2 494.3 178.2 489.6C182.2 484.9 186.8 479.4 190.5 474.7C194.2 469.9 197.7 465.0 200.5 461.1C203.3 457.2 206.4 452.9 207.6 451.2" stroke="#f00" stroke-width="1.1"/>
<path d="M211.0 451.0C209.2 453.5 203.9 461.3 200.5 466.1C197.1 470.9 194.2 474.9 190.5 479.7C186.8 484.4 182.4 489.3 178.2 494.6C174.0 499.9 169.1 506.5 165.2 511.5C161.3 516.5 157.8 520.7 154.6 524.8C151.4 528.9 148.2 533.2 145.9 536.3C143.6 539.4 142.2 541.0 140.9 543.4C139.6 545.8 138.3 548.8 138.3 550.5C138.3 552.2 139.4 553.2 140.9 553.9C142.4 554.6 144.4 554.8 147.1 554.5C149.8 554.2 153.7 553.1 157.0 552.0C160.3 550.9 163.3 549.5 167.0 547.7C170.7 546.0 175.2 543.6 179.3 541.5C183.4 539.4 187.4 537.5 191.7 535.3C196.0 533.1 197.2 532.8 205.0 528.5C212.8 524.2 231.3 513.8 238.8 509.4C246.3 505.0 248.3 503.6 250.2 502.4" stroke="#f00" stroke-width="2.1"/>
<path d="M215.0 450.5C213.8 452.1 210.3 456.3 207.9 459.9C205.5 463.5 203.2 468.0 200.5 472.3C197.8 476.6 194.9 481.1 191.8 485.9C188.7 490.6 184.6 497.4 181.9 500.8C179.2 504.2 177.7 503.6 175.6 506.2C173.5 508.8 171.2 512.8 169.4 516.1C167.6 519.4 165.6 523.1 164.5 526.0C163.4 528.9 162.4 531.7 162.6 533.5C162.8 535.3 164.1 536.0 165.7 536.6C167.2 537.2 169.2 537.7 171.9 537.2C174.6 536.7 178.5 534.8 181.8 533.5C185.1 532.2 187.8 531.4 191.7 529.7C195.6 528.0 198.8 526.5 205.0 523.5C211.2 520.5 221.4 515.3 228.9 511.4C236.4 507.5 246.6 501.9 250.2 500.0" stroke="#f00" stroke-width="1.3" stroke-dasharray="3 3.2"/>
<path d="M219.0 453.9C218.3 454.9 216.8 456.9 215.0 459.8C213.2 462.8 210.2 467.4 208.1 471.7C205.9 476.0 203.6 481.3 202.1 485.6C200.6 489.9 199.3 494.4 199.1 497.5C199.0 500.6 199.5 502.8 201.1 504.4C202.8 506.1 205.4 507.4 209.0 507.4C212.7 507.4 218.0 505.9 222.9 504.4C227.9 502.9 234.2 500.2 238.8 498.5C243.4 496.7 248.7 494.7 250.7 493.9" stroke="#000" stroke-width="1.1" stroke-dasharray="4 4"/>
<path d="M232.8 452.3C232.8 454.2 232.3 460.4 232.4 463.8C232.6 467.2 232.8 470.4 233.8 472.7C234.9 475.0 236.0 476.6 238.8 477.7C241.6 478.7 248.7 478.7 250.7 478.9" stroke="#000" stroke-width="1.1" stroke-dasharray="4 4"/>
</g>
<g clip-path="url(#c31)" fill="none" stroke-linecap="butt" stroke-linejoin="round">
<path d="M249.5 539.1 L386.1 469.3" stroke="#000" stroke-width="1.1"/>
<path d="M249.5 553.0 L386.1 478.3" stroke="#000" stroke-width="1.1"/>
<path d="M249.5 566.5 L386.1 486.6" stroke="#000" stroke-width="1.1"/>
<path d="M249.5 574.8 L386.1 491.9" stroke="#f00" stroke-width="1.1"/>
<path d="M249.5 578.2 L386.1 494.5" stroke="#f00" stroke-width="2.1"/>
<path d="M249.5 582.4 L386.1 497.5" stroke="#f00" stroke-width="1.3" stroke-dasharray="2.6 4.4"/>
<path d="M249.4 590.0 L378.8 506.2" stroke="#000" stroke-width="1.2" stroke-dasharray="2.6 4.4"/>
<path d="M263.0 590.0 L378.8 514.1" stroke="#000" stroke-width="1.2" stroke-dasharray="2.6 4.4"/>
<path d="M274.6 590.0 L377.0 522.7" stroke="#000" stroke-width="1.2" stroke-dasharray="2.6 4.4"/>
</g>
<g clip-path="url(#c32)" fill="none" stroke-linecap="butt" stroke-linejoin="round">
<path d="M385.5 544.3C387.7 542.7 394.4 537.7 398.6 534.8C402.8 531.8 406.5 529.2 410.9 526.6C415.3 524.1 420.8 521.7 425.0 519.5C429.1 517.3 431.5 515.7 435.7 513.6C439.8 511.4 445.0 508.9 449.7 506.6C454.5 504.4 460.5 501.7 464.2 500.1C467.9 498.4 467.2 498.9 472.1 496.8C477.1 494.7 487.4 490.1 494.0 487.6C500.6 485.0 506.4 483.2 511.7 481.4C517.0 479.7 523.4 478.0 525.7 477.3" stroke="#000" stroke-width="1.1"/>
<path d="M385.5 555.2C387.7 554.0 394.3 550.6 398.6 548.1C402.8 545.5 406.6 542.7 411.0 539.9C415.4 537.2 420.8 533.9 425.0 531.5C429.1 529.1 431.9 527.5 435.8 525.5C439.6 523.4 444.0 521.3 448.2 519.3C452.3 517.3 456.6 515.3 460.6 513.6C464.5 511.8 466.5 511.1 472.1 508.6C477.7 506.1 487.4 501.7 494.0 498.7C500.6 495.7 506.4 493.0 511.7 490.8C517.0 488.5 523.4 486.0 525.7 485.0" stroke="#000" stroke-width="1.1"/>
<path d="M385.5 568.5C387.7 567.2 394.3 563.5 398.6 560.7C402.8 558.0 406.6 555.0 411.0 552.2C415.4 549.4 420.8 546.6 425.0 544.1C429.1 541.6 431.9 539.5 435.8 537.1C439.6 534.8 444.0 532.4 448.2 530.2C452.3 528.1 456.6 526.1 460.6 524.3C464.5 522.4 466.5 521.8 472.1 519.1C477.7 516.5 487.4 511.7 494.0 508.4C500.6 505.1 506.4 501.9 511.7 499.3C517.0 496.7 523.4 493.8 525.7 492.7" stroke="#000" stroke-width="1.1"/>
<path d="M385.5 588.9C387.7 587.5 394.3 583.3 398.6 580.6C402.8 577.8 406.6 575.2 411.0 572.4C415.4 569.6 420.8 566.4 425.0 563.7C429.1 561.1 431.9 559.1 435.8 556.6C439.6 554.0 444.0 551.1 448.2 548.5C452.3 545.8 456.6 543.1 460.6 540.5C464.5 537.9 466.5 536.3 472.1 532.8C477.7 529.3 487.4 523.3 494.0 519.3C500.6 515.3 506.4 511.6 511.7 508.6C517.0 505.6 523.4 502.7 525.7 501.5" stroke="#000" stroke-width="1.1"/>
<path d="M395.4 590.1C398.0 588.4 406.1 583.1 411.0 580.0C415.9 576.8 420.8 573.8 425.0 571.1C429.1 568.3 431.9 566.3 435.8 563.7C439.6 561.1 444.0 558.3 448.2 555.6C452.3 552.9 456.6 550.1 460.6 547.5C464.5 544.8 466.5 543.3 472.1 539.6C477.7 535.9 487.4 529.7 494.0 525.5C500.6 521.2 506.4 517.2 511.7 514.2C517.0 511.1 523.4 508.2 525.7 507.0" stroke="#000" stroke-width="1.1"/>
<path d="M406.7 590.1C409.8 588.1 420.1 581.6 425.0 578.4C429.8 575.2 431.9 573.5 435.8 570.9C439.6 568.2 444.0 565.3 448.2 562.5C452.3 559.8 456.6 556.9 460.6 554.2C464.5 551.5 466.5 550.2 472.1 546.4C477.7 542.6 487.4 536.0 494.0 531.6C500.6 527.1 506.4 523.0 511.7 519.7C517.0 516.4 523.4 513.3 525.7 512.0" stroke="#000" stroke-width="1.1"/>
<path d="M390.9 575.3 L392.1 575.3" stroke="#f00" stroke-width="2.1"/>
<path d="M395.5 571.3C395.4 570.8 397.5 569.7 398.6 569.4C399.7 569.1 402.2 569.2 402.3 569.6C402.4 570.1 400.3 571.9 399.2 572.1C398.1 572.4 395.6 571.7 395.5 571.3Z" stroke="#f00" stroke-width="1.1"/>
<path d="M404.2 565.7 L409.7 561.3 L417.2 557.0 L423.4 553.3 L427.1 552.7 L427.7 556.4 L422.1 559.5 L415.9 562.6 L409.7 566.9 L405.4 568.2Z" stroke="#f00" stroke-width="1.1"/>
<path d="M426.5 552.7 L435.8 547.7 L438.5 548.7 L429.6 555.1 L427.7 555.5Z" stroke="#f00" stroke-width="1.1"/>
<path d="M442.0 542.8 L449.4 539.7 L450.6 542.8 L443.2 546.1Z" stroke="#f00" stroke-width="1.1"/>
<path d="M451.6 537.8C451.6 537.3 453.9 536.2 455.0 535.9C456.1 535.7 458.3 535.9 458.3 536.4C458.3 536.9 456.2 538.7 455.1 538.9C454.0 539.1 451.6 538.3 451.6 537.8Z" stroke="#f00" stroke-width="1.1"/>
<path d="M460.9 533.1 L463.9 533.1" stroke="#f00" stroke-width="2.1"/>
</g>
<g clip-path="url(#c33)" fill="none" stroke-linecap="butt" stroke-linejoin="round">
<path d="M524.3 513.4C527.2 511.2 535.5 505.3 541.7 500.5C548.0 495.7 555.0 490.1 561.6 484.6C568.2 479.2 574.9 473.3 581.4 467.8C587.9 462.2 597.4 453.9 600.6 451.1" stroke="#000" stroke-width="1.8"/>
<path d="M524.3 545.7C527.2 543.6 535.2 538.1 541.7 533.2C548.3 528.3 555.9 522.3 563.5 516.3C571.1 510.4 579.4 503.9 587.3 497.5C595.3 491.1 603.9 483.9 611.1 477.7C618.4 471.4 626.2 464.2 631.0 459.8C635.8 455.4 638.4 452.7 639.9 451.3" stroke="#00f" stroke-width="2.0" stroke-dasharray="2.2 4.7"/>
<path d="M524.3 570.9C528.9 567.6 540.5 559.5 551.7 551.0C562.8 542.6 578.1 531.0 591.3 520.3C604.5 509.6 619.1 496.6 631.0 486.6C642.9 476.6 657.4 464.8 662.7 460.4" stroke="#0f0" stroke-width="2" stroke-dasharray="12 9.4"/>
<path d="M526.9 589.1C531.0 585.9 544.2 575.5 551.7 569.9C559.1 564.2 564.9 560.0 571.5 555.0C578.1 550.0 584.7 545.1 591.3 540.1C597.9 535.2 604.5 530.4 611.1 525.3C617.7 520.1 624.4 514.7 631.0 509.4C637.6 504.1 645.5 497.6 650.8 493.5C656.1 489.4 660.7 486.3 662.7 484.8" stroke="#f00" stroke-width="2" stroke-dasharray="29.5 11"/>
<path d="M547.7 589.1C551.7 586.2 564.2 577.2 571.5 571.8C578.7 566.5 584.7 561.9 591.3 557.0C597.9 552.0 604.5 547.2 611.1 542.1C617.7 537.0 624.4 531.7 631.0 526.2C637.6 520.8 645.5 513.7 650.8 509.4C656.1 505.1 660.7 502.1 662.7 500.7" stroke="#f0f" stroke-width="2" stroke-dasharray="12 5 2 5"/>
</g>
<g clip-path="url(#c34)" fill="none" stroke-linecap="butt" stroke-linejoin="round">
<path d="M660.9 480.2C662.4 480.7 667.2 482.3 669.8 483.2C672.5 484.2 674.9 485.5 676.8 486.0C678.6 486.5 679.4 486.5 680.7 486.0C682.1 485.5 683.2 484.1 684.7 483.2C686.2 482.3 687.8 481.1 689.7 480.6C691.5 480.2 693.5 480.3 695.6 480.6C697.7 481.0 700.2 481.6 702.5 482.6C704.9 483.6 707.3 485.1 709.5 486.6C711.6 488.1 713.8 489.6 715.4 491.5C717.1 493.5 718.3 495.8 719.4 498.5C720.5 501.1 721.4 504.3 721.8 507.4C722.2 510.5 722.1 514.0 721.8 517.3C721.4 520.6 720.7 523.9 719.8 527.2C718.9 530.5 717.8 533.7 716.4 537.1C715.0 540.6 713.3 544.4 711.5 548.1C709.6 551.7 707.8 555.2 705.5 559.0C703.2 562.8 700.4 567.1 697.6 570.9C694.8 574.7 691.5 578.5 688.7 581.8C685.9 585.0 682.1 588.9 680.7 590.3" stroke="#000" stroke-width="1.8"/>
<path d="M689.7 589.1C691.6 586.9 697.3 580.8 701.5 575.8C705.8 570.8 710.8 564.7 715.4 559.0C720.1 553.2 725.3 546.4 729.3 541.1C733.3 535.8 736.4 531.9 739.2 527.2C742.0 522.6 744.2 518.0 746.2 513.4C748.1 508.7 749.5 504.4 751.1 499.5C752.8 494.5 754.8 488.6 756.1 483.6C757.4 478.7 758.2 474.1 759.0 469.7C759.9 465.4 760.7 459.5 761.0 457.4" stroke="#00f" stroke-width="2.0" stroke-dasharray="2.2 4.7"/>
<path d="M696.6 589.1C698.7 586.9 704.7 581.2 709.5 575.8C714.3 570.5 720.1 563.4 725.3 557.0C730.6 550.5 735.9 543.9 741.2 537.1C746.5 530.4 752.4 522.8 757.1 516.3C761.7 509.9 765.3 503.9 769.0 498.5C772.6 493.0 775.6 488.2 778.9 483.6C782.2 479.0 785.2 475.0 788.8 470.7C792.4 466.5 798.4 460.3 800.3 458.2" stroke="#0f0" stroke-width="2" stroke-dasharray="12 9.4"/>
<path d="M702.5 589.1C705.3 586.1 713.3 577.7 719.4 570.9C725.5 564.0 732.6 556.0 739.2 548.1C745.8 540.1 752.4 531.5 759.0 523.3C765.7 515.0 772.0 506.7 778.9 498.5C785.7 490.3 796.7 478.2 800.3 474.1" stroke="#f00" stroke-width="2" stroke-dasharray="29.5 11"/>
<path d="M711.5 589.1C714.4 585.9 723.0 576.9 729.3 569.9C735.6 562.9 742.5 554.7 749.1 547.1C755.7 539.5 762.4 531.5 769.0 524.3C775.6 517.0 783.6 508.8 788.8 503.4C794.0 498.1 798.4 493.9 800.3 491.9" stroke="#f0f" stroke-width="2" stroke-dasharray="12 5 2 5"/>
</g>
<g clip-path="url(#c40)" fill="none" stroke-linecap="butt" stroke-linejoin="round">
<path d="M110.9 669.6C114.0 666.5 123.3 657.5 129.7 651.3C136.2 645.2 143.0 639.3 149.6 632.5C156.2 625.7 162.9 618.0 169.4 610.7C175.8 603.4 185.1 592.2 188.2 588.5" stroke="#000" stroke-width="1.1"/>
<path d="M110.9 683.7C114.0 680.4 123.3 670.9 129.7 664.2C136.2 657.5 143.0 650.5 149.6 643.4C156.2 636.3 163.1 628.5 169.4 621.6C175.7 614.7 182.4 607.3 187.2 601.8C192.0 596.3 196.3 590.7 198.1 588.5" stroke="#000" stroke-width="1.1"/>
<path d="M110.9 700.5C114.0 697.1 123.3 687.1 129.7 680.1C136.2 673.1 143.0 665.7 149.6 658.3C156.2 650.9 162.8 643.3 169.4 635.5C176.0 627.7 182.8 619.5 189.2 611.7C195.7 603.9 204.9 592.4 208.1 588.5" stroke="#000" stroke-width="1.1"/>
<path d="M117.4 727.7C122.8 724.4 139.3 714.1 149.6 707.9C159.9 701.6 169.4 696.1 179.3 690.0C189.2 683.9 199.1 677.5 209.0 671.2C219.0 664.8 231.8 656.4 238.8 651.9C245.7 647.5 248.7 645.7 250.7 644.4" stroke="#000" stroke-width="1.1"/>
<path d="M135.1 727.7C139.2 725.2 150.5 718.4 159.5 712.8C168.5 707.2 179.3 700.4 189.2 694.0C199.1 687.5 208.7 681.4 219.0 674.1C229.2 666.9 245.4 654.7 250.7 650.8" stroke="#000" stroke-width="1.1"/>
<path d="M146.0 727.7C151.5 724.0 168.8 712.8 179.3 705.9C189.8 698.9 199.1 692.8 209.0 686.0C219.0 679.3 231.8 670.3 238.8 665.2C245.7 660.2 248.7 657.5 250.7 655.9" stroke="#000" stroke-width="1.1"/>
<path d="M216.6 588.5C215.3 590.5 212.6 595.4 209.0 600.8C205.5 606.1 200.1 613.7 195.2 620.6C190.2 627.6 184.6 635.5 179.3 642.4C174.0 649.4 168.4 656.0 163.4 662.3C158.5 668.5 153.2 675.3 149.6 680.1C145.9 684.9 143.2 688.1 141.6 691.0C140.1 693.9 139.8 696.6 140.4 697.5C141.1 698.5 142.4 697.9 145.6 697.0C148.8 696.0 153.9 694.1 159.5 692.0C165.1 689.8 172.7 687.0 179.3 684.1C185.9 681.1 192.5 677.8 199.1 674.1C205.7 670.5 212.4 666.4 219.0 662.3C225.6 658.1 233.5 653.0 238.8 649.4C244.1 645.7 248.7 641.9 250.7 640.4" stroke="#f00" stroke-width="1.1"/>
<path d="M219.6 588.5C218.5 590.2 215.8 594.4 213.0 598.8C210.3 603.2 206.7 609.1 203.1 614.7C199.5 620.3 195.2 626.6 191.2 632.5C187.2 638.5 182.9 644.7 179.3 650.4C175.7 656.0 171.4 662.3 169.4 666.2C167.4 670.2 167.1 672.5 167.4 674.1C167.7 675.8 168.7 676.1 171.4 676.1C174.0 676.1 178.6 675.6 183.3 674.1C187.9 672.7 193.2 670.2 199.1 667.2C205.1 664.2 212.4 660.1 219.0 656.3C225.6 652.5 233.5 647.7 238.8 644.4C244.1 641.1 248.7 637.8 250.7 636.5" stroke="#f00" stroke-width="2.1"/>
<path d="M221.3 591.9C220.4 593.7 218.4 598.3 216.0 602.8C213.6 607.2 210.2 613.0 207.1 618.6C203.9 624.3 200.1 630.9 197.1 636.5C194.2 642.1 190.9 648.4 189.2 652.3C187.6 656.3 186.6 658.8 187.2 660.3C187.9 661.8 189.9 661.9 193.2 661.3C196.5 660.6 202.1 658.5 207.1 656.3C212.0 654.2 217.6 651.0 222.9 648.4C228.2 645.7 234.2 642.7 238.8 640.4C243.4 638.2 248.7 635.7 250.7 634.7" stroke="#f00" stroke-width="1.3" stroke-dasharray="3 3.2"/>
<path d="M229.3 594.4C228.4 596.5 225.5 602.4 223.9 606.7C222.4 611.1 220.4 616.8 220.0 620.6C219.5 624.4 219.8 627.3 220.9 629.5C222.1 631.8 224.2 633.7 226.9 634.1C229.5 634.5 232.8 633.6 236.8 632.1C240.8 630.6 248.4 626.2 250.7 625.0" stroke="#000" stroke-width="1.1" stroke-dasharray="4 4"/>
<path d="M247.1 592.9C247.0 594.0 246.1 597.5 246.3 599.8C246.5 602.1 247.6 605.3 248.3 606.7C249.0 608.2 250.3 608.4 250.7 608.7" stroke="#000" stroke-width="1.1" stroke-dasharray="4 4"/>
</g>
<g clip-path="url(#c41)" fill="none" stroke-linecap="butt" stroke-linejoin="round">
<path d="M249.5 664.8 L386.1 600.8" stroke="#000" stroke-width="1.1"/>
<path d="M249.5 678.1 L386.1 610.3" stroke="#000" stroke-width="1.1"/>
<path d="M249.5 693.0 L386.1 619.2" stroke="#000" stroke-width="1.1"/>
<path d="M249.5 703.3 L386.1 625.2" stroke="#f00" stroke-width="1.1"/>
<path d="M249.5 708.1 L386.1 628.2" stroke="#f00" stroke-width="2.1"/>
<path d="M249.5 713.8 L386.1 630.9" stroke="#f00" stroke-width="1.3" stroke-dasharray="2.6 4.4"/>
<path d="M249.5 722.7 L386.1 635.7" stroke="#000" stroke-width="1.2" stroke-dasharray="2.6 4.4"/>
<path d="M249.5 733.4 L386.1 643.0" stroke="#000" stroke-width="1.2" stroke-dasharray="2.6 4.4"/>
<path d="M249.5 741.6 L386.1 649.0" stroke="#000" stroke-width="1.2" stroke-dasharray="2.6 4.4"/>
</g>
<g clip-path="url(#c42)" fill="none" stroke-linecap="butt" stroke-linejoin="round">
<path d="M385.9 679.1C389.0 677.0 398.3 670.7 404.7 666.2C411.2 661.8 418.0 657.0 424.6 652.3C431.2 647.7 437.8 642.6 444.4 638.5C451.0 634.3 457.6 630.9 464.2 627.6C470.8 624.3 477.4 621.3 484.0 618.6C490.7 616.0 496.9 613.7 503.9 611.7C510.8 609.6 522.0 607.2 525.7 606.3" stroke="#000" stroke-width="1.1"/>
<path d="M385.9 691.0C389.0 689.0 398.3 683.4 404.7 679.1C411.2 674.8 418.0 669.7 424.6 665.2C431.2 660.8 437.8 656.3 444.4 652.3C451.0 648.4 457.6 644.7 464.2 641.4C470.8 638.1 477.4 635.3 484.0 632.5C490.7 629.7 496.9 627.2 503.9 624.6C510.8 622.0 522.0 618.3 525.7 617.0" stroke="#000" stroke-width="1.1"/>
<path d="M385.9 702.3C389.0 700.6 398.3 695.9 404.7 692.0C411.2 688.1 418.0 683.4 424.6 679.1C431.2 674.8 437.8 670.3 444.4 666.2C451.0 662.1 457.6 658.0 464.2 654.3C470.8 650.7 477.4 647.7 484.0 644.4C490.7 641.1 496.9 637.8 503.9 634.5C510.8 631.2 522.0 626.4 525.7 624.8" stroke="#000" stroke-width="1.1"/>
<path d="M385.9 719.9C387.4 719.4 390.0 719.3 394.8 716.8C399.6 714.3 408.0 709.0 414.7 704.9C421.3 700.8 427.9 696.3 434.5 692.0C441.1 687.7 447.7 683.4 454.3 679.1C460.9 674.8 467.5 670.5 474.1 666.2C480.7 661.9 487.4 657.6 494.0 653.3C500.6 649.0 508.5 643.9 513.8 640.4C519.1 637.0 523.7 633.8 525.7 632.5" stroke="#000" stroke-width="1.1"/>
<path d="M393.2 727.7C396.8 725.5 407.8 719.1 414.7 714.8C421.5 710.5 427.9 706.2 434.5 701.9C441.1 697.6 447.7 693.5 454.3 689.0C460.9 684.6 467.5 679.6 474.1 675.1C480.7 670.7 487.4 666.7 494.0 662.3C500.6 657.8 508.5 652.2 513.8 648.4C519.1 644.5 523.7 640.8 525.7 639.3" stroke="#000" stroke-width="1.1"/>
<path d="M410.1 727.7C414.2 725.0 427.1 716.8 434.5 711.8C441.8 706.9 447.7 702.6 454.3 697.9C460.9 693.3 467.5 688.7 474.1 684.1C480.7 679.4 487.4 674.8 494.0 670.2C500.6 665.6 508.5 660.0 513.8 656.3C519.1 652.6 523.7 649.5 525.7 648.2" stroke="#000" stroke-width="1.1"/>
<path d="M418.6 689.0C418.9 688.2 419.6 687.1 421.6 685.6C423.6 684.2 427.4 681.8 430.5 680.1C433.7 678.3 437.1 676.8 440.4 675.1C443.7 673.5 447.4 671.7 450.3 670.2C453.3 668.7 456.1 667.1 458.3 666.2C460.4 665.3 462.3 664.8 463.2 664.8C464.2 664.9 464.5 665.6 463.8 666.6C463.2 667.7 461.3 669.8 459.3 671.2C457.2 672.6 454.1 673.8 451.3 675.1C448.5 676.5 445.5 677.5 442.4 679.1C439.3 680.8 435.6 683.2 432.5 685.1C429.4 686.9 425.7 689.1 423.6 690.0C421.4 690.9 420.4 690.8 419.6 690.6C418.8 690.4 418.3 689.8 418.6 689.0Z" stroke="#f00" stroke-width="1.1"/>
</g>
<g clip-path="url(#c43)" fill="none" stroke-linecap="butt" stroke-linejoin="round">
<path d="M524.3 653.9C527.2 651.7 535.5 645.3 541.7 640.4C548.0 635.6 555.0 630.2 561.6 624.6C568.2 619.0 574.9 612.8 581.4 606.7C587.9 600.7 597.4 591.5 600.6 588.5" stroke="#000" stroke-width="1.8"/>
<path d="M524.3 684.1C527.2 682.0 535.2 676.6 541.7 671.8C548.3 667.0 555.9 661.2 563.5 655.3C571.1 649.4 579.4 642.9 587.3 636.5C595.3 630.0 603.9 623.1 611.1 616.7C618.4 610.2 626.2 602.4 631.0 597.8C635.8 593.2 638.4 590.4 639.9 588.9" stroke="#00f" stroke-width="2.0" stroke-dasharray="2.2 4.7"/>
<path d="M524.3 705.9C528.9 702.7 540.5 695.3 551.7 687.0C562.8 678.8 578.1 666.9 591.3 656.3C604.5 645.7 619.1 633.4 631.0 623.6C642.9 613.8 657.4 601.8 662.7 597.4" stroke="#0f0" stroke-width="2" stroke-dasharray="12 9.4"/>
<path d="M524.3 722.7C528.9 719.6 543.8 709.5 551.7 703.9C559.5 698.3 564.9 694.0 571.5 689.0C578.1 684.1 584.7 679.1 591.3 674.1C597.9 669.2 604.5 664.4 611.1 659.3C617.7 654.2 624.4 648.9 631.0 643.4C637.6 638.0 645.5 630.8 650.8 626.6C656.1 622.3 660.7 619.3 662.7 617.8" stroke="#f00" stroke-width="2" stroke-dasharray="29.5 11"/>
<path d="M534.8 726.7C537.6 724.7 545.5 719.1 551.7 714.8C557.8 710.5 564.9 705.7 571.5 700.9C578.1 696.1 584.7 691.2 591.3 686.0C597.9 680.9 604.5 675.3 611.1 670.2C617.7 665.1 624.4 660.4 631.0 655.3C637.6 650.2 645.5 643.5 650.8 639.5C656.1 635.5 660.7 632.7 662.7 631.3" stroke="#f0f" stroke-width="2" stroke-dasharray="12 5 2 5"/>
</g>
<g clip-path="url(#c44)" fill="none" stroke-linecap="butt" stroke-linejoin="round">
<path d="M660.9 644.2C662.7 644.6 668.3 645.4 671.8 646.4C675.3 647.4 678.4 648.9 681.7 650.4C685.0 651.8 688.7 653.5 691.6 655.3C694.6 657.1 697.3 658.9 699.6 661.3C701.9 663.6 704.1 666.4 705.5 669.2C706.9 672.0 707.7 675.0 707.9 678.1C708.1 681.3 707.4 684.7 706.5 688.0C705.6 691.3 704.4 694.6 702.5 697.9C700.7 701.2 698.1 704.6 695.6 707.9C693.1 711.2 690.4 714.5 687.7 717.8C684.9 721.1 680.4 726.0 678.9 727.7" stroke="#000" stroke-width="1.8"/>
<path d="M662.3 619.6C663.2 620.1 665.9 621.5 667.8 622.2C669.8 622.9 671.5 623.7 673.8 623.6C676.1 623.5 678.7 622.1 681.7 621.6C684.7 621.1 688.3 620.5 691.6 620.6C694.9 620.8 697.9 621.5 701.5 622.6C705.2 623.7 709.5 625.1 713.4 627.0C717.4 628.8 722.2 631.3 725.3 633.5C728.5 635.8 730.6 638.0 732.3 640.4C734.0 642.9 735.1 645.4 735.7 648.4C736.2 651.3 736.2 655.0 735.7 658.3C735.1 661.6 733.8 664.9 732.3 668.2C730.7 671.5 728.5 674.8 726.3 678.1C724.2 681.4 722.2 684.1 719.4 688.0C716.6 692.0 712.8 697.6 709.5 701.9C706.2 706.2 702.5 710.3 699.6 713.8C696.6 717.3 693.6 720.6 691.6 722.7C689.7 724.9 688.3 726.0 687.7 726.7" stroke="#00f" stroke-width="2.0" stroke-dasharray="2.2 4.7"/>
<path d="M694.6 726.7C696.8 724.4 703.0 717.9 707.5 712.8C712.0 707.7 716.7 701.7 721.4 696.0C726.0 690.2 730.6 684.4 735.3 678.1C739.9 671.8 745.3 664.2 749.1 658.3C752.9 652.3 755.9 647.4 758.1 642.4C760.2 637.5 761.0 633.2 762.0 628.5C763.0 623.9 763.6 619.0 764.0 614.7C764.4 610.4 764.1 606.2 764.6 602.8C765.1 599.3 765.8 596.2 767.0 593.9C768.2 591.5 771.1 589.7 771.9 588.9" stroke="#0f0" stroke-width="2" stroke-dasharray="12 9.4"/>
<path d="M699.6 726.7C701.9 724.2 708.5 717.3 713.4 711.8C718.4 706.4 724.0 700.1 729.3 694.0C734.6 687.9 739.9 681.4 745.2 675.1C750.5 668.9 756.1 662.7 761.0 656.3C766.0 649.9 770.3 643.4 774.9 636.5C779.5 629.5 784.6 620.9 788.8 614.7C793.0 608.4 798.4 601.5 800.3 598.8" stroke="#f00" stroke-width="2" stroke-dasharray="29.5 11"/>
<path d="M707.5 726.7C709.8 724.5 716.1 719.3 721.4 713.8C726.7 708.4 732.9 700.9 739.2 694.0C745.5 687.0 752.4 679.4 759.0 672.2C765.7 664.9 772.0 657.9 778.9 650.4C785.7 642.8 796.7 630.9 800.3 627.0" stroke="#f0f" stroke-width="2" stroke-dasharray="12 5 2 5"/>
</g>
<circle cx="243.9" cy="68.5" r="3.1" fill="#000"/>
<circle cx="381.3" cy="68.5" r="3.1" fill="#000"/>
<circle cx="518.7" cy="68.5" r="3.1" fill="#000"/>
<circle cx="655.8" cy="68.5" r="3.1" fill="#000"/>
<circle cx="793.2" cy="68.5" r="3.1" fill="#000"/>
<circle cx="239.1" cy="220.1" r="3.1" fill="#000"/>
<circle cx="376.5" cy="220.1" r="3.1" fill="#000"/>
<circle cx="513.9" cy="220.1" r="3.1" fill="#000"/>
<circle cx="651.0" cy="220.1" r="3.1" fill="#000"/>
<circle cx="788.4" cy="220.1" r="3.1" fill="#000"/>
<circle cx="224.9" cy="362.5" r="3.1" fill="#000"/>
<circle cx="362.4" cy="362.5" r="3.1" fill="#000"/>
<circle cx="499.8" cy="362.5" r="3.1" fill="#000"/>
<circle cx="636.9" cy="362.5" r="3.1" fill="#000"/>
<circle cx="774.2" cy="362.5" r="3.1" fill="#000"/>
<circle cx="163.9" cy="547.2" r="3.1" fill="#000"/>
<circle cx="301.3" cy="547.2" r="3.1" fill="#000"/>
<circle cx="438.7" cy="547.2" r="3.1" fill="#000"/>
<circle cx="575.8" cy="547.2" r="3.1" fill="#000"/>
<circle cx="713.2" cy="547.2" r="3.1" fill="#000"/>
<circle cx="163.9" cy="679.7" r="3.1" fill="#000"/>
<circle cx="301.3" cy="679.7" r="3.1" fill="#000"/>
<circle cx="438.7" cy="679.7" r="3.1" fill="#000"/>
<circle cx="575.8" cy="679.7" r="3.1" fill="#000"/>
<circle cx="713.2" cy="679.7" r="3.1" fill="#000"/>
<circle cx="461.9" cy="248.6" r="0.9" fill="#000"/>
<path d="M112.0 39.0 V727.5M249.4 39.0 V727.5M386.8 39.0 V727.5M524.2 39.0 V727.5M661.6 39.0 V727.5M111.3 39.6 H662.2M111.3 177.0 H662.2M111.3 314.5 H662.2M111.3 451.9 H662.2M111.3 589.4 H662.2M111.3 726.8 H662.2" stroke="#000" stroke-width="1.30" fill="none"/>
<path d="M120.6 39.6 v5.8M120.6 177.0 v-5.8M120.6 177.0 v5.8M120.6 314.5 v-5.8M120.6 314.5 v5.8M120.6 451.9 v-5.8M120.6 451.9 v5.8M120.6 589.4 v-5.8M120.6 589.4 v5.8M120.6 726.8 v-5.8M129.1 39.6 v5.8M129.1 177.0 v-5.8M129.1 177.0 v5.8M129.1 314.5 v-5.8M129.1 314.5 v5.8M129.1 451.9 v-5.8M129.1 451.9 v5.8M129.1 589.4 v-5.8M129.1 589.4 v5.8M129.1 726.8 v-5.8M137.7 39.6 v11.5M137.7 177.0 v-11.5M137.7 177.0 v11.5M137.7 314.5 v-11.5M137.7 314.5 v11.5M137.7 451.9 v-11.5M137.7 451.9 v11.5M137.7 589.4 v-11.5M137.7 589.4 v11.5M137.7 726.8 v-11.5M146.2 39.6 v5.8M146.2 177.0 v-5.8M146.2 177.0 v5.8M146.2 314.5 v-5.8M146.2 314.5 v5.8M146.2 451.9 v-5.8M146.2 451.9 v5.8M146.2 589.4 v-5.8M146.2 589.4 v5.8M146.2 726.8 v-5.8M154.8 39.6 v5.8M154.8 177.0 v-5.8M154.8 177.0 v5.8M154.8 314.5 v-5.8M154.8 314.5 v5.8M154.8 451.9 v-5.8M154.8 451.9 v5.8M154.8 589.4 v-5.8M154.8 589.4 v5.8M154.8 726.8 v-5.8M163.4 39.6 v5.8M163.4 177.0 v-5.8M163.4 177.0 v5.8M163.4 314.5 v-5.8M163.4 314.5 v5.8M163.4 451.9 v-5.8M163.4 451.9 v5.8M163.4 589.4 v-5.8M163.4 589.4 v5.8M163.4 726.8 v-5.8M171.9 39.6 v5.8M171.9 177.0 v-5.8M171.9 177.0 v5.8M171.9 314.5 v-5.8M171.9 314.5 v5.8M171.9 451.9 v-5.8M171.9 451.9 v5.8M171.9 589.4 v-5.8M171.9 589.4 v5.8M171.9 726.8 v-5.8M180.5 39.6 v11.5M180.5 177.0 v-11.5M180.5 177.0 v11.5M180.5 314.5 v-11.5M180.5 314.5 v11.5M180.5 451.9 v-11.5M180.5 451.9 v11.5M180.5 589.4 v-11.5M180.5 589.4 v11.5M180.5 726.8 v-11.5M189.0 39.6 v5.8M189.0 177.0 v-5.8M189.0 177.0 v5.8M189.0 314.5 v-5.8M189.0 314.5 v5.8M189.0 451.9 v-5.8M189.0 451.9 v5.8M189.0 589.4 v-5.8M189.0 589.4 v5.8M189.0 726.8 v-5.8M197.6 39.6 v5.8M197.6 177.0 v-5.8M197.6 177.0 v5.8M197.6 314.5 v-5.8M197.6 314.5 v5.8M197.6 451.9 v-5.8M197.6 451.9 v5.8M197.6 589.4 v-5.8M197.6 589.4 v5.8M197.6 726.8 v-5.8M206.2 39.6 v5.8M206.2 177.0 v-5.8M206.2 177.0 v5.8M206.2 314.5 v-5.8M206.2 314.5 v5.8M206.2 451.9 v-5.8M206.2 451.9 v5.8M206.2 589.4 v-5.8M206.2 589.4 v5.8M206.2 726.8 v-5.8M214.7 39.6 v5.8M214.7 177.0 v-5.8M214.7 177.0 v5.8M214.7 314.5 v-5.8M214.7 314.5 v5.8M214.7 451.9 v-5.8M214.7 451.9 v5.8M214.7 589.4 v-5.8M214.7 589.4 v5.8M214.7 726.8 v-5.8M223.3 39.6 v11.5M223.3 177.0 v-11.5M223.3 177.0 v11.5M223.3 314.5 v-11.5M223.3 314.5 v11.5M223.3 451.9 v-11.5M223.3 451.9 v11.5M223.3 589.4 v-11.5M223.3 589.4 v11.5M223.3 726.8 v-11.5M231.8 39.6 v5.8M231.8 177.0 v-5.8M231.8 177.0 v5.8M231.8 314.5 v-5.8M231.8 314.5 v5.8M231.8 451.9 v-5.8M231.8 451.9 v5.8M231.8 589.4 v-5.8M231.8 589.4 v5.8M231.8 726.8 v-5.8M240.4 39.6 v5.8M240.4 177.0 v-5.8M240.4 177.0 v5.8M240.4 314.5 v-5.8M240.4 314.5 v5.8M240.4 451.9 v-5.8M240.4 451.9 v5.8M240.4 589.4 v-5.8M240.4 589.4 v5.8M240.4 726.8 v-5.8M257.9 39.6 v5.8M257.9 177.0 v-5.8M257.9 177.0 v5.8M257.9 314.5 v-5.8M257.9 314.5 v5.8M257.9 451.9 v-5.8M257.9 451.9 v5.8M257.9 589.4 v-5.8M257.9 589.4 v5.8M257.9 726.8 v-5.8M266.5 39.6 v5.8M266.5 177.0 v-5.8M266.5 177.0 v5.8M266.5 314.5 v-5.8M266.5 314.5 v5.8M266.5 451.9 v-5.8M266.5 451.9 v5.8M266.5 589.4 v-5.8M266.5 589.4 v5.8M266.5 726.8 v-5.8M275.1 39.6 v11.5M275.1 177.0 v-11.5M275.1 177.0 v11.5M275.1 314.5 v-11.5M275.1 314.5 v11.5M275.1 451.9 v-11.5M275.1 451.9 v11.5M275.1 589.4 v-11.5M275.1 589.4 v11.5M275.1 726.8 v-11.5M283.6 39.6 v5.8M283.6 177.0 v-5.8M283.6 177.0 v5.8M283.6 314.5 v-5.8M283.6 314.5 v5.8M283.6 451.9 v-5.8M283.6 451.9 v5.8M283.6 589.4 v-5.8M283.6 589.4 v5.8M283.6 726.8 v-5.8M292.2 39.6 v5.8M292.2 177.0 v-5.8M292.2 177.0 v5.8M292.2 314.5 v-5.8M292.2 314.5 v5.8M292.2 451.9 v-5.8M292.2 451.9 v5.8M292.2 589.4 v-5.8M292.2 589.4 v5.8M292.2 726.8 v-5.8M300.8 39.6 v5.8M300.8 177.0 v-5.8M300.8 177.0 v5.8M300.8 314.5 v-5.8M300.8 314.5 v5.8M300.8 451.9 v-5.8M300.8 451.9 v5.8M300.8 589.4 v-5.8M300.8 589.4 v5.8M300.8 726.8 v-5.8M309.3 39.6 v5.8M309.3 177.0 v-5.8M309.3 177.0 v5.8M309.3 314.5 v-5.8M309.3 314.5 v5.8M309.3 451.9 v-5.8M309.3 451.9 v5.8M309.3 589.4 v-5.8M309.3 589.4 v5.8M309.3 726.8 v-5.8M317.9 39.6 v11.5M317.9 177.0 v-11.5M317.9 177.0 v11.5M317.9 314.5 v-11.5M317.9 314.5 v11.5M317.9 451.9 v-11.5M317.9 451.9 v11.5M317.9 589.4 v-11.5M317.9 589.4 v11.5M317.9 726.8 v-11.5M326.4 39.6 v5.8M326.4 177.0 v-5.8M326.4 177.0 v5.8M326.4 314.5 v-5.8M326.4 314.5 v5.8M326.4 451.9 v-5.8M326.4 451.9 v5.8M326.4 589.4 v-5.8M326.4 589.4 v5.8M326.4 726.8 v-5.8M335.0 39.6 v5.8M335.0 177.0 v-5.8M335.0 177.0 v5.8M335.0 314.5 v-5.8M335.0 314.5 v5.8M335.0 451.9 v-5.8M335.0 451.9 v5.8M335.0 589.4 v-5.8M335.0 589.4 v5.8M335.0 726.8 v-5.8M343.6 39.6 v5.8M343.6 177.0 v-5.8M343.6 177.0 v5.8M343.6 314.5 v-5.8M343.6 314.5 v5.8M343.6 451.9 v-5.8M343.6 451.9 v5.8M343.6 589.4 v-5.8M343.6 589.4 v5.8M343.6 726.8 v-5.8M352.1 39.6 v5.8M352.1 177.0 v-5.8M352.1 177.0 v5.8M352.1 314.5 v-5.8M352.1 314.5 v5.8M352.1 451.9 v-5.8M352.1 451.9 v5.8M352.1 589.4 v-5.8M352.1 589.4 v5.8M352.1 726.8 v-5.8M360.7 39.6 v11.5M360.7 177.0 v-11.5M360.7 177.0 v11.5M360.7 314.5 v-11.5M360.7 314.5 v11.5M360.7 451.9 v-11.5M360.7 451.9 v11.5M360.7 589.4 v-11.5M360.7 589.4 v11.5M360.7 726.8 v-11.5M369.2 39.6 v5.8M369.2 177.0 v-5.8M369.2 177.0 v5.8M369.2 314.5 v-5.8M369.2 314.5 v5.8M369.2 451.9 v-5.8M369.2 451.9 v5.8M369.2 589.4 v-5.8M369.2 589.4 v5.8M369.2 726.8 v-5.8M377.8 39.6 v5.8M377.8 177.0 v-5.8M377.8 177.0 v5.8M377.8 314.5 v-5.8M377.8 314.5 v5.8M377.8 451.9 v-5.8M377.8 451.9 v5.8M377.8 589.4 v-5.8M377.8 589.4 v5.8M377.8 726.8 v-5.8M395.4 39.6 v5.8M395.4 177.0 v-5.8M395.4 177.0 v5.8M395.4 314.5 v-5.8M395.4 314.5 v5.8M395.4 451.9 v-5.8M395.4 451.9 v5.8M395.4 589.4 v-5.8M395.4 589.4 v5.8M395.4 726.8 v-5.8M403.9 39.6 v5.8M403.9 177.0 v-5.8M403.9 177.0 v5.8M403.9 314.5 v-5.8M403.9 314.5 v5.8M403.9 451.9 v-5.8M403.9 451.9 v5.8M403.9 589.4 v-5.8M403.9 589.4 v5.8M403.9 726.8 v-5.8M412.5 39.6 v11.5M412.5 177.0 v-11.5M412.5 177.0 v11.5M412.5 314.5 v-11.5M412.5 314.5 v11.5M412.5 451.9 v-11.5M412.5 451.9 v11.5M412.5 589.4 v-11.5M412.5 589.4 v11.5M412.5 726.8 v-11.5M421.0 39.6 v5.8M421.0 177.0 v-5.8M421.0 177.0 v5.8M421.0 314.5 v-5.8M421.0 314.5 v5.8M421.0 451.9 v-5.8M421.0 451.9 v5.8M421.0 589.4 v-5.8M421.0 589.4 v5.8M421.0 726.8 v-5.8M429.6 39.6 v5.8M429.6 177.0 v-5.8M429.6 177.0 v5.8M429.6 314.5 v-5.8M429.6 314.5 v5.8M429.6 451.9 v-5.8M429.6 451.9 v5.8M429.6 589.4 v-5.8M429.6 589.4 v5.8M429.6 726.8 v-5.8M438.2 39.6 v5.8M438.2 177.0 v-5.8M438.2 177.0 v5.8M438.2 314.5 v-5.8M438.2 314.5 v5.8M438.2 451.9 v-5.8M438.2 451.9 v5.8M438.2 589.4 v-5.8M438.2 589.4 v5.8M438.2 726.8 v-5.8M446.7 39.6 v5.8M446.7 177.0 v-5.8M446.7 177.0 v5.8M446.7 314.5 v-5.8M446.7 314.5 v5.8M446.7 451.9 v-5.8M446.7 451.9 v5.8M446.7 589.4 v-5.8M446.7 589.4 v5.8M446.7 726.8 v-5.8M455.3 39.6 v11.5M455.3 177.0 v-11.5M455.3 177.0 v11.5M455.3 314.5 v-11.5M455.3 314.5 v11.5M455.3 451.9 v-11.5M455.3 451.9 v11.5M455.3 589.4 v-11.5M455.3 589.4 v11.5M455.3 726.8 v-11.5M463.8 39.6 v5.8M463.8 177.0 v-5.8M463.8 177.0 v5.8M463.8 314.5 v-5.8M463.8 314.5 v5.8M463.8 451.9 v-5.8M463.8 451.9 v5.8M463.8 589.4 v-5.8M463.8 589.4 v5.8M463.8 726.8 v-5.8M472.4 39.6 v5.8M472.4 177.0 v-5.8M472.4 177.0 v5.8M472.4 314.5 v-5.8M472.4 314.5 v5.8M472.4 451.9 v-5.8M472.4 451.9 v5.8M472.4 589.4 v-5.8M472.4 589.4 v5.8M472.4 726.8 v-5.8M481.0 39.6 v5.8M481.0 177.0 v-5.8M481.0 177.0 v5.8M481.0 314.5 v-5.8M481.0 314.5 v5.8M481.0 451.9 v-5.8M481.0 451.9 v5.8M481.0 589.4 v-5.8M481.0 589.4 v5.8M481.0 726.8 v-5.8M489.5 39.6 v5.8M489.5 177.0 v-5.8M489.5 177.0 v5.8M489.5 314.5 v-5.8M489.5 314.5 v5.8M489.5 451.9 v-5.8M489.5 451.9 v5.8M489.5 589.4 v-5.8M489.5 589.4 v5.8M489.5 726.8 v-5.8M498.1 39.6 v11.5M498.1 177.0 v-11.5M498.1 177.0 v11.5M498.1 314.5 v-11.5M498.1 314.5 v11.5M498.1 451.9 v-11.5M498.1 451.9 v11.5M498.1 589.4 v-11.5M498.1 589.4 v11.5M498.1 726.8 v-11.5M506.6 39.6 v5.8M506.6 177.0 v-5.8M506.6 177.0 v5.8M506.6 314.5 v-5.8M506.6 314.5 v5.8M506.6 451.9 v-5.8M506.6 451.9 v5.8M506.6 589.4 v-5.8M506.6 589.4 v5.8M506.6 726.8 v-5.8M515.2 39.6 v5.8M515.2 177.0 v-5.8M515.2 177.0 v5.8M515.2 314.5 v-5.8M515.2 314.5 v5.8M515.2 451.9 v-5.8M515.2 451.9 v5.8M515.2 589.4 v-5.8M515.2 589.4 v5.8M515.2 726.8 v-5.8M532.8 39.6 v5.8M532.8 177.0 v-5.8M532.8 177.0 v5.8M532.8 314.5 v-5.8M532.8 314.5 v5.8M532.8 451.9 v-5.8M532.8 451.9 v5.8M532.8 589.4 v-5.8M532.8 589.4 v5.8M532.8 726.8 v-5.8M541.3 39.6 v5.8M541.3 177.0 v-5.8M541.3 177.0 v5.8M541.3 314.5 v-5.8M541.3 314.5 v5.8M541.3 451.9 v-5.8M541.3 451.9 v5.8M541.3 589.4 v-5.8M541.3 589.4 v5.8M541.3 726.8 v-5.8M549.9 39.6 v11.5M549.9 177.0 v-11.5M549.9 177.0 v11.5M549.9 314.5 v-11.5M549.9 314.5 v11.5M549.9 451.9 v-11.5M549.9 451.9 v11.5M549.9 589.4 v-11.5M549.9 589.4 v11.5M549.9 726.8 v-11.5M558.4 39.6 v5.8M558.4 177.0 v-5.8M558.4 177.0 v5.8M558.4 314.5 v-5.8M558.4 314.5 v5.8M558.4 451.9 v-5.8M558.4 451.9 v5.8M558.4 589.4 v-5.8M558.4 589.4 v5.8M558.4 726.8 v-5.8M567.0 39.6 v5.8M567.0 177.0 v-5.8M567.0 177.0 v5.8M567.0 314.5 v-5.8M567.0 314.5 v5.8M567.0 451.9 v-5.8M567.0 451.9 v5.8M567.0 589.4 v-5.8M567.0 589.4 v5.8M567.0 726.8 v-5.8M575.5 39.6 v5.8M575.5 177.0 v-5.8M575.5 177.0 v5.8M575.5 314.5 v-5.8M575.5 314.5 v5.8M575.5 451.9 v-5.8M575.5 451.9 v5.8M575.5 589.4 v-5.8M575.5 589.4 v5.8M575.5 726.8 v-5.8M584.1 39.6 v5.8M584.1 177.0 v-5.8M584.1 177.0 v5.8M584.1 314.5 v-5.8M584.1 314.5 v5.8M584.1 451.9 v-5.8M584.1 451.9 v5.8M584.1 589.4 v-5.8M584.1 589.4 v5.8M584.1 726.8 v-5.8M592.7 39.6 v11.5M592.7 177.0 v-11.5M592.7 177.0 v11.5M592.7 314.5 v-11.5M592.7 314.5 v11.5M592.7 451.9 v-11.5M592.7 451.9 v11.5M592.7 589.4 v-11.5M592.7 589.4 v11.5M592.7 726.8 v-11.5M601.2 39.6 v5.8M601.2 177.0 v-5.8M601.2 177.0 v5.8M601.2 314.5 v-5.8M601.2 314.5 v5.8M601.2 451.9 v-5.8M601.2 451.9 v5.8M601.2 589.4 v-5.8M601.2 589.4 v5.8M601.2 726.8 v-5.8M609.8 39.6 v5.8M609.8 177.0 v-5.8M609.8 177.0 v5.8M609.8 314.5 v-5.8M609.8 314.5 v5.8M609.8 451.9 v-5.8M609.8 451.9 v5.8M609.8 589.4 v-5.8M609.8 589.4 v5.8M609.8 726.8 v-5.8M618.4 39.6 v5.8M618.4 177.0 v-5.8M618.4 177.0 v5.8M618.4 314.5 v-5.8M618.4 314.5 v5.8M618.4 451.9 v-5.8M618.4 451.9 v5.8M618.4 589.4 v-5.8M618.4 589.4 v5.8M618.4 726.8 v-5.8M626.9 39.6 v5.8M626.9 177.0 v-5.8M626.9 177.0 v5.8M626.9 314.5 v-5.8M626.9 314.5 v5.8M626.9 451.9 v-5.8M626.9 451.9 v5.8M626.9 589.4 v-5.8M626.9 589.4 v5.8M626.9 726.8 v-5.8M635.5 39.6 v11.5M635.5 177.0 v-11.5M635.5 177.0 v11.5M635.5 314.5 v-11.5M635.5 314.5 v11.5M635.5 451.9 v-11.5M635.5 451.9 v11.5M635.5 589.4 v-11.5M635.5 589.4 v11.5M635.5 726.8 v-11.5M644.0 39.6 v5.8M644.0 177.0 v-5.8M644.0 177.0 v5.8M644.0 314.5 v-5.8M644.0 314.5 v5.8M644.0 451.9 v-5.8M644.0 451.9 v5.8M644.0 589.4 v-5.8M644.0 589.4 v5.8M644.0 726.8 v-5.8M652.6 39.6 v5.8M652.6 177.0 v-5.8M652.6 177.0 v5.8M652.6 314.5 v-5.8M652.6 314.5 v5.8M652.6 451.9 v-5.8M652.6 451.9 v5.8M652.6 589.4 v-5.8M652.6 589.4 v5.8M652.6 726.8 v-5.8M112.0 49.0 h5.8M249.4 49.0 h-5.8M249.4 49.0 h5.8M386.8 49.0 h-5.8M386.8 49.0 h5.8M524.2 49.0 h-5.8M524.2 49.0 h5.8M661.6 49.0 h-5.8M112.0 57.5 h5.8M249.4 57.5 h-5.8M249.4 57.5 h5.8M386.8 57.5 h-5.8M386.8 57.5 h5.8M524.2 57.5 h-5.8M524.2 57.5 h5.8M661.6 57.5 h-5.8M112.0 66.0 h11.5M249.4 66.0 h-11.5M249.4 66.0 h11.5M386.8 66.0 h-11.5M386.8 66.0 h11.5M524.2 66.0 h-11.5M524.2 66.0 h11.5M661.6 66.0 h-11.5M112.0 74.6 h5.8M249.4 74.6 h-5.8M249.4 74.6 h5.8M386.8 74.6 h-5.8M386.8 74.6 h5.8M524.2 74.6 h-5.8M524.2 74.6 h5.8M661.6 74.6 h-5.8M112.0 83.1 h5.8M249.4 83.1 h-5.8M249.4 83.1 h5.8M386.8 83.1 h-5.8M386.8 83.1 h5.8M524.2 83.1 h-5.8M524.2 83.1 h5.8M661.6 83.1 h-5.8M112.0 91.6 h5.8M249.4 91.6 h-5.8M249.4 91.6 h5.8M386.8 91.6 h-5.8M386.8 91.6 h5.8M524.2 91.6 h-5.8M524.2 91.6 h5.8M661.6 91.6 h-5.8M112.0 100.1 h5.8M249.4 100.1 h-5.8M249.4 100.1 h5.8M386.8 100.1 h-5.8M386.8 100.1 h5.8M524.2 100.1 h-5.8M524.2 100.1 h5.8M661.6 100.1 h-5.8M112.0 108.6 h11.5M249.4 108.6 h-11.5M249.4 108.6 h11.5M386.8 108.6 h-11.5M386.8 108.6 h11.5M524.2 108.6 h-11.5M524.2 108.6 h11.5M661.6 108.6 h-11.5M112.0 117.2 h5.8M249.4 117.2 h-5.8M249.4 117.2 h5.8M386.8 117.2 h-5.8M386.8 117.2 h5.8M524.2 117.2 h-5.8M524.2 117.2 h5.8M661.6 117.2 h-5.8M112.0 125.7 h5.8M249.4 125.7 h-5.8M249.4 125.7 h5.8M386.8 125.7 h-5.8M386.8 125.7 h5.8M524.2 125.7 h-5.8M524.2 125.7 h5.8M661.6 125.7 h-5.8M112.0 134.2 h5.8M249.4 134.2 h-5.8M249.4 134.2 h5.8M386.8 134.2 h-5.8M386.8 134.2 h5.8M524.2 134.2 h-5.8M524.2 134.2 h5.8M661.6 134.2 h-5.8M112.0 142.7 h5.8M249.4 142.7 h-5.8M249.4 142.7 h5.8M386.8 142.7 h-5.8M386.8 142.7 h5.8M524.2 142.7 h-5.8M524.2 142.7 h5.8M661.6 142.7 h-5.8M112.0 151.2 h11.5M249.4 151.2 h-11.5M249.4 151.2 h11.5M386.8 151.2 h-11.5M386.8 151.2 h11.5M524.2 151.2 h-11.5M524.2 151.2 h11.5M661.6 151.2 h-11.5M112.0 159.8 h5.8M249.4 159.8 h-5.8M249.4 159.8 h5.8M386.8 159.8 h-5.8M386.8 159.8 h5.8M524.2 159.8 h-5.8M524.2 159.8 h5.8M661.6 159.8 h-5.8M112.0 168.3 h5.8M249.4 168.3 h-5.8M249.4 168.3 h5.8M386.8 168.3 h-5.8M386.8 168.3 h5.8M524.2 168.3 h-5.8M524.2 168.3 h5.8M661.6 168.3 h-5.8M112.0 186.4 h5.8M249.4 186.4 h-5.8M249.4 186.4 h5.8M386.8 186.4 h-5.8M386.8 186.4 h5.8M524.2 186.4 h-5.8M524.2 186.4 h5.8M661.6 186.4 h-5.8M112.0 195.0 h5.8M249.4 195.0 h-5.8M249.4 195.0 h5.8M386.8 195.0 h-5.8M386.8 195.0 h5.8M524.2 195.0 h-5.8M524.2 195.0 h5.8M661.6 195.0 h-5.8M112.0 203.5 h11.5M249.4 203.5 h-11.5M249.4 203.5 h11.5M386.8 203.5 h-11.5M386.8 203.5 h11.5M524.2 203.5 h-11.5M524.2 203.5 h11.5M661.6 203.5 h-11.5M112.0 212.0 h5.8M249.4 212.0 h-5.8M249.4 212.0 h5.8M386.8 212.0 h-5.8M386.8 212.0 h5.8M524.2 212.0 h-5.8M524.2 212.0 h5.8M661.6 212.0 h-5.8M112.0 220.5 h5.8M249.4 220.5 h-5.8M249.4 220.5 h5.8M386.8 220.5 h-5.8M386.8 220.5 h5.8M524.2 220.5 h-5.8M524.2 220.5 h5.8M661.6 220.5 h-5.8M112.0 229.0 h5.8M249.4 229.0 h-5.8M249.4 229.0 h5.8M386.8 229.0 h-5.8M386.8 229.0 h5.8M524.2 229.0 h-5.8M524.2 229.0 h5.8M661.6 229.0 h-5.8M112.0 237.6 h5.8M249.4 237.6 h-5.8M249.4 237.6 h5.8M386.8 237.6 h-5.8M386.8 237.6 h5.8M524.2 237.6 h-5.8M524.2 237.6 h5.8M661.6 237.6 h-5.8M112.0 246.1 h11.5M249.4 246.1 h-11.5M249.4 246.1 h11.5M386.8 246.1 h-11.5M386.8 246.1 h11.5M524.2 246.1 h-11.5M524.2 246.1 h11.5M661.6 246.1 h-11.5M112.0 254.6 h5.8M249.4 254.6 h-5.8M249.4 254.6 h5.8M386.8 254.6 h-5.8M386.8 254.6 h5.8M524.2 254.6 h-5.8M524.2 254.6 h5.8M661.6 254.6 h-5.8M112.0 263.1 h5.8M249.4 263.1 h-5.8M249.4 263.1 h5.8M386.8 263.1 h-5.8M386.8 263.1 h5.8M524.2 263.1 h-5.8M524.2 263.1 h5.8M661.6 263.1 h-5.8M112.0 271.6 h5.8M249.4 271.6 h-5.8M249.4 271.6 h5.8M386.8 271.6 h-5.8M386.8 271.6 h5.8M524.2 271.6 h-5.8M524.2 271.6 h5.8M661.6 271.6 h-5.8M112.0 280.2 h5.8M249.4 280.2 h-5.8M249.4 280.2 h5.8M386.8 280.2 h-5.8M386.8 280.2 h5.8M524.2 280.2 h-5.8M524.2 280.2 h5.8M661.6 280.2 h-5.8M112.0 288.7 h11.5M249.4 288.7 h-11.5M249.4 288.7 h11.5M386.8 288.7 h-11.5M386.8 288.7 h11.5M524.2 288.7 h-11.5M524.2 288.7 h11.5M661.6 288.7 h-11.5M112.0 297.2 h5.8M249.4 297.2 h-5.8M249.4 297.2 h5.8M386.8 297.2 h-5.8M386.8 297.2 h5.8M524.2 297.2 h-5.8M524.2 297.2 h5.8M661.6 297.2 h-5.8M112.0 305.7 h5.8M249.4 305.7 h-5.8M249.4 305.7 h5.8M386.8 305.7 h-5.8M386.8 305.7 h5.8M524.2 305.7 h-5.8M524.2 305.7 h5.8M661.6 305.7 h-5.8M112.0 323.9 h5.8M249.4 323.9 h-5.8M249.4 323.9 h5.8M386.8 323.9 h-5.8M386.8 323.9 h5.8M524.2 323.9 h-5.8M524.2 323.9 h5.8M661.6 323.9 h-5.8M112.0 332.4 h5.8M249.4 332.4 h-5.8M249.4 332.4 h5.8M386.8 332.4 h-5.8M386.8 332.4 h5.8M524.2 332.4 h-5.8M524.2 332.4 h5.8M661.6 332.4 h-5.8M112.0 340.9 h11.5M249.4 340.9 h-11.5M249.4 340.9 h11.5M386.8 340.9 h-11.5M386.8 340.9 h11.5M524.2 340.9 h-11.5M524.2 340.9 h11.5M661.6 340.9 h-11.5M112.0 349.4 h5.8M249.4 349.4 h-5.8M249.4 349.4 h5.8M386.8 349.4 h-5.8M386.8 349.4 h5.8M524.2 349.4 h-5.8M524.2 349.4 h5.8M661.6 349.4 h-5.8M112.0 358.0 h5.8M249.4 358.0 h-5.8M249.4 358.0 h5.8M386.8 358.0 h-5.8M386.8 358.0 h5.8M524.2 358.0 h-5.8M524.2 358.0 h5.8M661.6 358.0 h-5.8M112.0 366.5 h5.8M249.4 366.5 h-5.8M249.4 366.5 h5.8M386.8 366.5 h-5.8M386.8 366.5 h5.8M524.2 366.5 h-5.8M524.2 366.5 h5.8M661.6 366.5 h-5.8M112.0 375.0 h5.8M249.4 375.0 h-5.8M249.4 375.0 h5.8M386.8 375.0 h-5.8M386.8 375.0 h5.8M524.2 375.0 h-5.8M524.2 375.0 h5.8M661.6 375.0 h-5.8M112.0 383.5 h11.5M249.4 383.5 h-11.5M249.4 383.5 h11.5M386.8 383.5 h-11.5M386.8 383.5 h11.5M524.2 383.5 h-11.5M524.2 383.5 h11.5M661.6 383.5 h-11.5M112.0 392.1 h5.8M249.4 392.1 h-5.8M249.4 392.1 h5.8M386.8 392.1 h-5.8M386.8 392.1 h5.8M524.2 392.1 h-5.8M524.2 392.1 h5.8M661.6 392.1 h-5.8M112.0 400.6 h5.8M249.4 400.6 h-5.8M249.4 400.6 h5.8M386.8 400.6 h-5.8M386.8 400.6 h5.8M524.2 400.6 h-5.8M524.2 400.6 h5.8M661.6 400.6 h-5.8M112.0 409.1 h5.8M249.4 409.1 h-5.8M249.4 409.1 h5.8M386.8 409.1 h-5.8M386.8 409.1 h5.8M524.2 409.1 h-5.8M524.2 409.1 h5.8M661.6 409.1 h-5.8M112.0 417.6 h5.8M249.4 417.6 h-5.8M249.4 417.6 h5.8M386.8 417.6 h-5.8M386.8 417.6 h5.8M524.2 417.6 h-5.8M524.2 417.6 h5.8M661.6 417.6 h-5.8M112.0 426.1 h11.5M249.4 426.1 h-11.5M249.4 426.1 h11.5M386.8 426.1 h-11.5M386.8 426.1 h11.5M524.2 426.1 h-11.5M524.2 426.1 h11.5M661.6 426.1 h-11.5M112.0 434.6 h5.8M249.4 434.6 h-5.8M249.4 434.6 h5.8M386.8 434.6 h-5.8M386.8 434.6 h5.8M524.2 434.6 h-5.8M524.2 434.6 h5.8M661.6 434.6 h-5.8M112.0 443.2 h5.8M249.4 443.2 h-5.8M249.4 443.2 h5.8M386.8 443.2 h-5.8M386.8 443.2 h5.8M524.2 443.2 h-5.8M524.2 443.2 h5.8M661.6 443.2 h-5.8M112.0 461.3 h5.8M249.4 461.3 h-5.8M249.4 461.3 h5.8M386.8 461.3 h-5.8M386.8 461.3 h5.8M524.2 461.3 h-5.8M524.2 461.3 h5.8M661.6 461.3 h-5.8M112.0 469.9 h5.8M249.4 469.9 h-5.8M249.4 469.9 h5.8M386.8 469.9 h-5.8M386.8 469.9 h5.8M524.2 469.9 h-5.8M524.2 469.9 h5.8M661.6 469.9 h-5.8M112.0 478.4 h11.5M249.4 478.4 h-11.5M249.4 478.4 h11.5M386.8 478.4 h-11.5M386.8 478.4 h11.5M524.2 478.4 h-11.5M524.2 478.4 h11.5M661.6 478.4 h-11.5M112.0 486.9 h5.8M249.4 486.9 h-5.8M249.4 486.9 h5.8M386.8 486.9 h-5.8M386.8 486.9 h5.8M524.2 486.9 h-5.8M524.2 486.9 h5.8M661.6 486.9 h-5.8M112.0 495.4 h5.8M249.4 495.4 h-5.8M249.4 495.4 h5.8M386.8 495.4 h-5.8M386.8 495.4 h5.8M524.2 495.4 h-5.8M524.2 495.4 h5.8M661.6 495.4 h-5.8M112.0 503.9 h5.8M249.4 503.9 h-5.8M249.4 503.9 h5.8M386.8 503.9 h-5.8M386.8 503.9 h5.8M524.2 503.9 h-5.8M524.2 503.9 h5.8M661.6 503.9 h-5.8M112.0 512.5 h5.8M249.4 512.5 h-5.8M249.4 512.5 h5.8M386.8 512.5 h-5.8M386.8 512.5 h5.8M524.2 512.5 h-5.8M524.2 512.5 h5.8M661.6 512.5 h-5.8M112.0 521.0 h11.5M249.4 521.0 h-11.5M249.4 521.0 h11.5M386.8 521.0 h-11.5M386.8 521.0 h11.5M524.2 521.0 h-11.5M524.2 521.0 h11.5M661.6 521.0 h-11.5M112.0 529.5 h5.8M249.4 529.5 h-5.8M249.4 529.5 h5.8M386.8 529.5 h-5.8M386.8 529.5 h5.8M524.2 529.5 h-5.8M524.2 529.5 h5.8M661.6 529.5 h-5.8M112.0 538.0 h5.8M249.4 538.0 h-5.8M249.4 538.0 h5.8M386.8 538.0 h-5.8M386.8 538.0 h5.8M524.2 538.0 h-5.8M524.2 538.0 h5.8M661.6 538.0 h-5.8M112.0 546.5 h5.8M249.4 546.5 h-5.8M249.4 546.5 h5.8M386.8 546.5 h-5.8M386.8 546.5 h5.8M524.2 546.5 h-5.8M524.2 546.5 h5.8M661.6 546.5 h-5.8M112.0 555.0 h5.8M249.4 555.0 h-5.8M249.4 555.0 h5.8M386.8 555.0 h-5.8M386.8 555.0 h5.8M524.2 555.0 h-5.8M524.2 555.0 h5.8M661.6 555.0 h-5.8M112.0 563.6 h11.5M249.4 563.6 h-11.5M249.4 563.6 h11.5M386.8 563.6 h-11.5M386.8 563.6 h11.5M524.2 563.6 h-11.5M524.2 563.6 h11.5M661.6 563.6 h-11.5M112.0 572.1 h5.8M249.4 572.1 h-5.8M249.4 572.1 h5.8M386.8 572.1 h-5.8M386.8 572.1 h5.8M524.2 572.1 h-5.8M524.2 572.1 h5.8M661.6 572.1 h-5.8M112.0 580.6 h5.8M249.4 580.6 h-5.8M249.4 580.6 h5.8M386.8 580.6 h-5.8M386.8 580.6 h5.8M524.2 580.6 h-5.8M524.2 580.6 h5.8M661.6 580.6 h-5.8M112.0 598.8 h5.8M249.4 598.8 h-5.8M249.4 598.8 h5.8M386.8 598.8 h-5.8M386.8 598.8 h5.8M524.2 598.8 h-5.8M524.2 598.8 h5.8M661.6 598.8 h-5.8M112.0 607.3 h5.8M249.4 607.3 h-5.8M249.4 607.3 h5.8M386.8 607.3 h-5.8M386.8 607.3 h5.8M524.2 607.3 h-5.8M524.2 607.3 h5.8M661.6 607.3 h-5.8M112.0 615.8 h11.5M249.4 615.8 h-11.5M249.4 615.8 h11.5M386.8 615.8 h-11.5M386.8 615.8 h11.5M524.2 615.8 h-11.5M524.2 615.8 h11.5M661.6 615.8 h-11.5M112.0 624.3 h5.8M249.4 624.3 h-5.8M249.4 624.3 h5.8M386.8 624.3 h-5.8M386.8 624.3 h5.8M524.2 624.3 h-5.8M524.2 624.3 h5.8M661.6 624.3 h-5.8M112.0 632.9 h5.8M249.4 632.9 h-5.8M249.4 632.9 h5.8M386.8 632.9 h-5.8M386.8 632.9 h5.8M524.2 632.9 h-5.8M524.2 632.9 h5.8M661.6 632.9 h-5.8M112.0 641.4 h5.8M249.4 641.4 h-5.8M249.4 641.4 h5.8M386.8 641.4 h-5.8M386.8 641.4 h5.8M524.2 641.4 h-5.8M524.2 641.4 h5.8M661.6 641.4 h-5.8M112.0 649.9 h5.8M249.4 649.9 h-5.8M249.4 649.9 h5.8M386.8 649.9 h-5.8M386.8 649.9 h5.8M524.2 649.9 h-5.8M524.2 649.9 h5.8M661.6 649.9 h-5.8M112.0 658.4 h11.5M249.4 658.4 h-11.5M249.4 658.4 h11.5M386.8 658.4 h-11.5M386.8 658.4 h11.5M524.2 658.4 h-11.5M524.2 658.4 h11.5M661.6 658.4 h-11.5M112.0 666.9 h5.8M249.4 666.9 h-5.8M249.4 666.9 h5.8M386.8 666.9 h-5.8M386.8 666.9 h5.8M524.2 666.9 h-5.8M524.2 666.9 h5.8M661.6 666.9 h-5.8M112.0 675.5 h5.8M249.4 675.5 h-5.8M249.4 675.5 h5.8M386.8 675.5 h-5.8M386.8 675.5 h5.8M524.2 675.5 h-5.8M524.2 675.5 h5.8M661.6 675.5 h-5.8M112.0 684.0 h5.8M249.4 684.0 h-5.8M249.4 684.0 h5.8M386.8 684.0 h-5.8M386.8 684.0 h5.8M524.2 684.0 h-5.8M524.2 684.0 h5.8M661.6 684.0 h-5.8M112.0 692.5 h5.8M249.4 692.5 h-5.8M249.4 692.5 h5.8M386.8 692.5 h-5.8M386.8 692.5 h5.8M524.2 692.5 h-5.8M524.2 692.5 h5.8M661.6 692.5 h-5.8M112.0 701.0 h11.5M249.4 701.0 h-11.5M249.4 701.0 h11.5M386.8 701.0 h-11.5M386.8 701.0 h11.5M524.2 701.0 h-11.5M524.2 701.0 h11.5M661.6 701.0 h-11.5M112.0 709.5 h5.8M249.4 709.5 h-5.8M249.4 709.5 h5.8M386.8 709.5 h-5.8M386.8 709.5 h5.8M524.2 709.5 h-5.8M524.2 709.5 h5.8M661.6 709.5 h-5.8M112.0 718.1 h5.8M249.4 718.1 h-5.8M249.4 718.1 h5.8M386.8 718.1 h-5.8M386.8 718.1 h5.8M524.2 718.1 h-5.8M524.2 718.1 h5.8M661.6 718.1 h-5.8" stroke="#000" stroke-width="1.15" fill="none"/>
<path d="M661.6 38.6 V727.8M799.0 38.6 V727.8M660.6 39.6 H800.0M660.6 177.0 H800.0M660.6 314.5 H800.0M660.6 451.9 H800.0M660.6 589.4 H800.0M660.6 726.8 H800.0" stroke="#000" stroke-width="1.90" fill="none"/>
<path d="M670.1 39.6 v5.8M670.1 177.0 v-5.8M670.1 177.0 v5.8M670.1 314.5 v-5.8M670.1 314.5 v5.8M670.1 451.9 v-5.8M670.1 451.9 v5.8M670.1 589.4 v-5.8M670.1 589.4 v5.8M670.1 726.8 v-5.8M678.7 39.6 v5.8M678.7 177.0 v-5.8M678.7 177.0 v5.8M678.7 314.5 v-5.8M678.7 314.5 v5.8M678.7 451.9 v-5.8M678.7 451.9 v5.8M678.7 589.4 v-5.8M678.7 589.4 v5.8M678.7 726.8 v-5.8M687.3 39.6 v11.5M687.3 177.0 v-11.5M687.3 177.0 v11.5M687.3 314.5 v-11.5M687.3 314.5 v11.5M687.3 451.9 v-11.5M687.3 451.9 v11.5M687.3 589.4 v-11.5M687.3 589.4 v11.5M687.3 726.8 v-11.5M695.8 39.6 v5.8M695.8 177.0 v-5.8M695.8 177.0 v5.8M695.8 314.5 v-5.8M695.8 314.5 v5.8M695.8 451.9 v-5.8M695.8 451.9 v5.8M695.8 589.4 v-5.8M695.8 589.4 v5.8M695.8 726.8 v-5.8M704.4 39.6 v5.8M704.4 177.0 v-5.8M704.4 177.0 v5.8M704.4 314.5 v-5.8M704.4 314.5 v5.8M704.4 451.9 v-5.8M704.4 451.9 v5.8M704.4 589.4 v-5.8M704.4 589.4 v5.8M704.4 726.8 v-5.8M712.9 39.6 v5.8M712.9 177.0 v-5.8M712.9 177.0 v5.8M712.9 314.5 v-5.8M712.9 314.5 v5.8M712.9 451.9 v-5.8M712.9 451.9 v5.8M712.9 589.4 v-5.8M712.9 589.4 v5.8M712.9 726.8 v-5.8M721.5 39.6 v5.8M721.5 177.0 v-5.8M721.5 177.0 v5.8M721.5 314.5 v-5.8M721.5 314.5 v5.8M721.5 451.9 v-5.8M721.5 451.9 v5.8M721.5 589.4 v-5.8M721.5 589.4 v5.8M721.5 726.8 v-5.8M730.1 39.6 v11.5M730.1 177.0 v-11.5M730.1 177.0 v11.5M730.1 314.5 v-11.5M730.1 314.5 v11.5M730.1 451.9 v-11.5M730.1 451.9 v11.5M730.1 589.4 v-11.5M730.1 589.4 v11.5M730.1 726.8 v-11.5M738.6 39.6 v5.8M738.6 177.0 v-5.8M738.6 177.0 v5.8M738.6 314.5 v-5.8M738.6 314.5 v5.8M738.6 451.9 v-5.8M738.6 451.9 v5.8M738.6 589.4 v-5.8M738.6 589.4 v5.8M738.6 726.8 v-5.8M747.2 39.6 v5.8M747.2 177.0 v-5.8M747.2 177.0 v5.8M747.2 314.5 v-5.8M747.2 314.5 v5.8M747.2 451.9 v-5.8M747.2 451.9 v5.8M747.2 589.4 v-5.8M747.2 589.4 v5.8M747.2 726.8 v-5.8M755.8 39.6 v5.8M755.8 177.0 v-5.8M755.8 177.0 v5.8M755.8 314.5 v-5.8M755.8 314.5 v5.8M755.8 451.9 v-5.8M755.8 451.9 v5.8M755.8 589.4 v-5.8M755.8 589.4 v5.8M755.8 726.8 v-5.8M764.3 39.6 v5.8M764.3 177.0 v-5.8M764.3 177.0 v5.8M764.3 314.5 v-5.8M764.3 314.5 v5.8M764.3 451.9 v-5.8M764.3 451.9 v5.8M764.3 589.4 v-5.8M764.3 589.4 v5.8M764.3 726.8 v-5.8M772.9 39.6 v11.5M772.9 177.0 v-11.5M772.9 177.0 v11.5M772.9 314.5 v-11.5M772.9 314.5 v11.5M772.9 451.9 v-11.5M772.9 451.9 v11.5M772.9 589.4 v-11.5M772.9 589.4 v11.5M772.9 726.8 v-11.5M781.4 39.6 v5.8M781.4 177.0 v-5.8M781.4 177.0 v5.8M781.4 314.5 v-5.8M781.4 314.5 v5.8M781.4 451.9 v-5.8M781.4 451.9 v5.8M781.4 589.4 v-5.8M781.4 589.4 v5.8M781.4 726.8 v-5.8M790.0 39.6 v5.8M790.0 177.0 v-5.8M790.0 177.0 v5.8M790.0 314.5 v-5.8M790.0 314.5 v5.8M790.0 451.9 v-5.8M790.0 451.9 v5.8M790.0 589.4 v-5.8M790.0 589.4 v5.8M790.0 726.8 v-5.8M661.6 49.0 h5.8M799.0 49.0 h-5.8M661.6 57.5 h5.8M799.0 57.5 h-5.8M661.6 66.0 h11.5M799.0 66.0 h-11.5M661.6 74.6 h5.8M799.0 74.6 h-5.8M661.6 83.1 h5.8M799.0 83.1 h-5.8M661.6 91.6 h5.8M799.0 91.6 h-5.8M661.6 100.1 h5.8M799.0 100.1 h-5.8M661.6 108.6 h11.5M799.0 108.6 h-11.5M661.6 117.2 h5.8M799.0 117.2 h-5.8M661.6 125.7 h5.8M799.0 125.7 h-5.8M661.6 134.2 h5.8M799.0 134.2 h-5.8M661.6 142.7 h5.8M799.0 142.7 h-5.8M661.6 151.2 h11.5M799.0 151.2 h-11.5M661.6 159.8 h5.8M799.0 159.8 h-5.8M661.6 168.3 h5.8M799.0 168.3 h-5.8M661.6 186.4 h5.8M799.0 186.4 h-5.8M661.6 195.0 h5.8M799.0 195.0 h-5.8M661.6 203.5 h11.5M799.0 203.5 h-11.5M661.6 212.0 h5.8M799.0 212.0 h-5.8M661.6 220.5 h5.8M799.0 220.5 h-5.8M661.6 229.0 h5.8M799.0 229.0 h-5.8M661.6 237.6 h5.8M799.0 237.6 h-5.8M661.6 246.1 h11.5M799.0 246.1 h-11.5M661.6 254.6 h5.8M799.0 254.6 h-5.8M661.6 263.1 h5.8M799.0 263.1 h-5.8M661.6 271.6 h5.8M799.0 271.6 h-5.8M661.6 280.2 h5.8M799.0 280.2 h-5.8M661.6 288.7 h11.5M799.0 288.7 h-11.5M661.6 297.2 h5.8M799.0 297.2 h-5.8M661.6 305.7 h5.8M799.0 305.7 h-5.8M661.6 323.9 h5.8M799.0 323.9 h-5.8M661.6 332.4 h5.8M799.0 332.4 h-5.8M661.6 340.9 h11.5M799.0 340.9 h-11.5M661.6 349.4 h5.8M799.0 349.4 h-5.8M661.6 358.0 h5.8M799.0 358.0 h-5.8M661.6 366.5 h5.8M799.0 366.5 h-5.8M661.6 375.0 h5.8M799.0 375.0 h-5.8M661.6 383.5 h11.5M799.0 383.5 h-11.5M661.6 392.1 h5.8M799.0 392.1 h-5.8M661.6 400.6 h5.8M799.0 400.6 h-5.8M661.6 409.1 h5.8M799.0 409.1 h-5.8M661.6 417.6 h5.8M799.0 417.6 h-5.8M661.6 426.1 h11.5M799.0 426.1 h-11.5M661.6 434.6 h5.8M799.0 434.6 h-5.8M661.6 443.2 h5.8M799.0 443.2 h-5.8M661.6 461.3 h5.8M799.0 461.3 h-5.8M661.6 469.9 h5.8M799.0 469.9 h-5.8M661.6 478.4 h11.5M799.0 478.4 h-11.5M661.6 486.9 h5.8M799.0 486.9 h-5.8M661.6 495.4 h5.8M799.0 495.4 h-5.8M661.6 503.9 h5.8M799.0 503.9 h-5.8M661.6 512.5 h5.8M799.0 512.5 h-5.8M661.6 521.0 h11.5M799.0 521.0 h-11.5M661.6 529.5 h5.8M799.0 529.5 h-5.8M661.6 538.0 h5.8M799.0 538.0 h-5.8M661.6 546.5 h5.8M799.0 546.5 h-5.8M661.6 555.0 h5.8M799.0 555.0 h-5.8M661.6 563.6 h11.5M799.0 563.6 h-11.5M661.6 572.1 h5.8M799.0 572.1 h-5.8M661.6 580.6 h5.8M799.0 580.6 h-5.8M661.6 598.8 h5.8M799.0 598.8 h-5.8M661.6 607.3 h5.8M799.0 607.3 h-5.8M661.6 615.8 h11.5M799.0 615.8 h-11.5M661.6 624.3 h5.8M799.0 624.3 h-5.8M661.6 632.9 h5.8M799.0 632.9 h-5.8M661.6 641.4 h5.8M799.0 641.4 h-5.8M661.6 649.9 h5.8M799.0 649.9 h-5.8M661.6 658.4 h11.5M799.0 658.4 h-11.5M661.6 666.9 h5.8M799.0 666.9 h-5.8M661.6 675.5 h5.8M799.0 675.5 h-5.8M661.6 684.0 h5.8M799.0 684.0 h-5.8M661.6 692.5 h5.8M799.0 692.5 h-5.8M661.6 701.0 h11.5M799.0 701.0 h-11.5M661.6 709.5 h5.8M799.0 709.5 h-5.8M661.6 718.1 h5.8M799.0 718.1 h-5.8" stroke="#000" stroke-width="1.65" fill="none"/>
<g font-family="Liberation Sans, sans-serif" fill="#000" opacity="0.999"><path d="M126.50 16.00 L131.85 29.90 L137.20 16.00M140.60 16.00 V30.00 H148.80M265.80 29.80 V15.80 M265.80 15.80 H272.13 A3.57 3.57 0 0 1 272.13 22.94 H265.80 M270.75 22.94 L275.70 29.80M280.05 16.00 V30.00 H287.85M401.30 16.20 L406.80 30.10 L412.30 16.20M415.40 16.00 V30.20 H423.40M427.20 23.70 H439.00 M433.10 17.80 V29.60M444.60 30.00 V15.80 M444.60 15.80 H450.68 A3.62 3.62 0 0 1 450.68 23.04 H444.60 M449.45 23.04 L454.30 30.00M458.10 16.00 V30.20 H466.50M538.90 13.50 L544.30 27.30 L549.70 13.50M570.3 31.9 L581.7 10.4M584.10 13.50 L589.85 27.30 L595.60 13.50M676.00 13.50 L681.55 27.30 L687.10 13.50M709 31.9 L720.7 10.4M723.10 13.50 L728.90 27.30 L734.70 13.50" fill="none" stroke="#000" stroke-width="1.45" stroke-linecap="round" stroke-linejoin="round"/><text x="550.6" y="33.7" font-size="12.5" textLength="17.4" lengthAdjust="spacing" stroke="#000" stroke-width="0.3">gal</text><text x="596.2" y="34.5" font-size="12.8" textLength="19.2" lengthAdjust="spacing" stroke="#000" stroke-width="0.3">2.2</text><text x="688.0" y="34.4" font-size="12.8" textLength="19.2" lengthAdjust="spacing" stroke="#000" stroke-width="0.3">2.2</text><text x="735.2" y="33.7" font-size="12.5" textLength="14.6" lengthAdjust="spacing" stroke="#000" stroke-width="0.3">vir</text><path d="M79.30 67.15 H89.50M95.30 63.20 Q97.60 62.40 98.60 60.40 V71.85" fill="none" stroke="#000" stroke-width="1.40" stroke-linecap="round" stroke-linejoin="round"/><rect x="87.20" y="112.75" width="1.9" height="1.9" rx="0.5" fill="#000"/><text transform="translate(91.14 114.85) scale(1.066 1)" font-size="17.8" >5</text><path d="M62.10 109.75 H72.10M77.30 105.80 Q79.60 105.00 80.60 103.00 V114.45" fill="none" stroke="#000" stroke-width="1.40" stroke-linecap="round" stroke-linejoin="round"/><text transform="translate(90.72 157.25) scale(1.098 1)" font-size="17.8" >2</text><path d="M78.70 152.35 H88.90" fill="none" stroke="#000" stroke-width="1.40" stroke-linecap="round" stroke-linejoin="round"/><path d="M79.30 204.59 H89.50M95.30 200.64 Q97.60 199.84 98.60 197.84 V209.29" fill="none" stroke="#000" stroke-width="1.40" stroke-linecap="round" stroke-linejoin="round"/><rect x="87.20" y="250.19" width="1.9" height="1.9" rx="0.5" fill="#000"/><text transform="translate(91.14 252.29) scale(1.066 1)" font-size="17.8" >5</text><path d="M62.10 247.19 H72.10M77.30 243.24 Q79.60 242.44 80.60 240.44 V251.89" fill="none" stroke="#000" stroke-width="1.40" stroke-linecap="round" stroke-linejoin="round"/><text transform="translate(90.72 294.69) scale(1.098 1)" font-size="17.8" >2</text><path d="M78.70 289.79 H88.90" fill="none" stroke="#000" stroke-width="1.40" stroke-linecap="round" stroke-linejoin="round"/><path d="M79.30 342.03 H89.50M95.30 338.08 Q97.60 337.28 98.60 335.28 V346.73" fill="none" stroke="#000" stroke-width="1.40" stroke-linecap="round" stroke-linejoin="round"/><rect x="87.20" y="387.63" width="1.9" height="1.9" rx="0.5" fill="#000"/><text transform="translate(91.14 389.73) scale(1.066 1)" font-size="17.8" >5</text><path d="M62.10 384.63 H72.10M77.30 380.68 Q79.60 379.88 80.60 377.88 V389.33" fill="none" stroke="#000" stroke-width="1.40" stroke-linecap="round" stroke-linejoin="round"/><text transform="translate(90.72 432.13) scale(1.098 1)" font-size="17.8" >2</text><path d="M78.70 427.23 H88.90" fill="none" stroke="#000" stroke-width="1.40" stroke-linecap="round" stroke-linejoin="round"/><path d="M79.30 479.47 H89.50M95.30 475.52 Q97.60 474.72 98.60 472.72 V484.17" fill="none" stroke="#000" stroke-width="1.40" stroke-linecap="round" stroke-linejoin="round"/><rect x="87.20" y="525.07" width="1.9" height="1.9" rx="0.5" fill="#000"/><text transform="translate(91.14 527.17) scale(1.066 1)" font-size="17.8" >5</text><path d="M62.10 522.07 H72.10M77.30 518.12 Q79.60 517.32 80.60 515.32 V526.77" fill="none" stroke="#000" stroke-width="1.40" stroke-linecap="round" stroke-linejoin="round"/><text transform="translate(90.72 569.57) scale(1.098 1)" font-size="17.8" >2</text><path d="M78.70 564.67 H88.90" fill="none" stroke="#000" stroke-width="1.40" stroke-linecap="round" stroke-linejoin="round"/><path d="M79.30 616.91 H89.50M95.30 612.96 Q97.60 612.16 98.60 610.16 V621.61" fill="none" stroke="#000" stroke-width="1.40" stroke-linecap="round" stroke-linejoin="round"/><rect x="87.20" y="662.51" width="1.9" height="1.9" rx="0.5" fill="#000"/><text transform="translate(91.14 664.61) scale(1.066 1)" font-size="17.8" >5</text><path d="M62.10 659.51 H72.10M77.30 655.56 Q79.60 654.76 80.60 652.76 V664.21" fill="none" stroke="#000" stroke-width="1.40" stroke-linecap="round" stroke-linejoin="round"/><text transform="translate(90.72 707.01) scale(1.098 1)" font-size="17.8" >2</text><path d="M78.70 702.11 H88.90" fill="none" stroke="#000" stroke-width="1.40" stroke-linecap="round" stroke-linejoin="round"/><text transform="translate(138.89 749.20) scale(1.110 1)" font-size="17.6" >2</text><path d="M126.87 744.36 H137.07" fill="none" stroke="#000" stroke-width="1.40" stroke-linecap="round" stroke-linejoin="round"/><rect x="185.57" y="747.30" width="1.9" height="1.9" rx="0.5" fill="#000"/><text transform="translate(189.51 749.40) scale(1.079 1)" font-size="17.6" >5</text><path d="M160.47 744.36 H170.47M175.67 740.49 Q177.97 739.69 178.97 737.69 V749.00" fill="none" stroke="#000" stroke-width="1.40" stroke-linecap="round" stroke-linejoin="round"/><path d="M212.57 744.36 H222.77M228.57 740.49 Q230.87 739.69 231.87 737.69 V749.00" fill="none" stroke="#000" stroke-width="1.40" stroke-linecap="round" stroke-linejoin="round"/><text transform="translate(276.29 749.20) scale(1.110 1)" font-size="17.6" >2</text><path d="M264.27 744.36 H274.47" fill="none" stroke="#000" stroke-width="1.40" stroke-linecap="round" stroke-linejoin="round"/><rect x="322.97" y="747.30" width="1.9" height="1.9" rx="0.5" fill="#000"/><text transform="translate(326.91 749.40) scale(1.079 1)" font-size="17.6" >5</text><path d="M297.87 744.36 H307.87M313.07 740.49 Q315.37 739.69 316.37 737.69 V749.00" fill="none" stroke="#000" stroke-width="1.40" stroke-linecap="round" stroke-linejoin="round"/><path d="M349.97 744.36 H360.17M365.97 740.49 Q368.27 739.69 369.27 737.69 V749.00" fill="none" stroke="#000" stroke-width="1.40" stroke-linecap="round" stroke-linejoin="round"/><text transform="translate(413.69 749.20) scale(1.110 1)" font-size="17.6" >2</text><path d="M401.67 744.36 H411.87" fill="none" stroke="#000" stroke-width="1.40" stroke-linecap="round" stroke-linejoin="round"/><rect x="460.37" y="747.30" width="1.9" height="1.9" rx="0.5" fill="#000"/><text transform="translate(464.31 749.40) scale(1.079 1)" font-size="17.6" >5</text><path d="M435.27 744.36 H445.27M450.47 740.49 Q452.77 739.69 453.77 737.69 V749.00" fill="none" stroke="#000" stroke-width="1.40" stroke-linecap="round" stroke-linejoin="round"/><path d="M487.37 744.36 H497.57M503.37 740.49 Q505.67 739.69 506.67 737.69 V749.00" fill="none" stroke="#000" stroke-width="1.40" stroke-linecap="round" stroke-linejoin="round"/><text transform="translate(551.09 749.20) scale(1.110 1)" font-size="17.6" >2</text><path d="M539.07 744.36 H549.27" fill="none" stroke="#000" stroke-width="1.40" stroke-linecap="round" stroke-linejoin="round"/><rect x="597.77" y="747.30" width="1.9" height="1.9" rx="0.5" fill="#000"/><text transform="translate(601.71 749.40) scale(1.079 1)" font-size="17.6" >5</text><path d="M572.67 744.36 H582.67M587.87 740.49 Q590.17 739.69 591.17 737.69 V749.00" fill="none" stroke="#000" stroke-width="1.40" stroke-linecap="round" stroke-linejoin="round"/><path d="M624.77 744.36 H634.97M640.77 740.49 Q643.07 739.69 644.07 737.69 V749.00" fill="none" stroke="#000" stroke-width="1.40" stroke-linecap="round" stroke-linejoin="round"/><text transform="translate(688.49 749.20) scale(1.110 1)" font-size="17.6" stroke="#000" stroke-width="0.45">2</text><path d="M676.47 744.36 H686.67" fill="none" stroke="#000" stroke-width="1.80" stroke-linecap="round" stroke-linejoin="round"/><rect x="735.17" y="747.30" width="1.9" height="1.9" rx="0.5" fill="#000"/><text transform="translate(739.11 749.40) scale(1.079 1)" font-size="17.6" stroke="#000" stroke-width="0.45">5</text><path d="M710.07 744.36 H720.07M725.07 740.49 Q727.37 739.69 728.37 737.69 V749.00" fill="none" stroke="#000" stroke-width="1.80" stroke-linecap="round" stroke-linejoin="round"/><path d="M762.17 744.36 H772.37M777.97 740.49 Q780.27 739.69 781.27 737.69 V749.00" fill="none" stroke="#000" stroke-width="1.80" stroke-linecap="round" stroke-linejoin="round"/><text x="402.0" y="785.0" font-size="27.0" textLength="39.5" lengthAdjust="spacing" >log</text><text x="459.5" y="785.0" font-size="27.0" textLength="23.5" lengthAdjust="spacingAndGlyphs" >m</text><text x="485.2" y="794.4" font-size="16.5" textLength="25.0" lengthAdjust="spacing" stroke="#000" stroke-width="0.3">gal</text><g transform="translate(31.2 431.9) rotate(-90)"><text x="0.0" y="0.0" font-size="27.0" textLength="39.5" lengthAdjust="spacing" >log</text><text x="56.0" y="0.0" font-size="27.0" textLength="16.0" lengthAdjust="spacingAndGlyphs" >λ</text><text x="76.0" y="7.8" font-size="16.5" textLength="22.5" lengthAdjust="spacing" stroke="#000" stroke-width="0.3">gal</text></g><g transform="translate(809.0 69.8) rotate(90)" font-style="normal"><text x="0" y="0" font-size="16.3" textLength="75.5" lengthAdjust="spacing" xml:space="preserve"><tspan><tspan font-style="italic">ν</tspan>=1 </tspan><tspan font-style="italic">η</tspan><tspan font-size="10.5" dy="4.2" stroke="#000" stroke-width="0.3">c</tspan><tspan dy="-4.2">=1</tspan></text></g><g transform="translate(809.0 198.8) rotate(90)" font-style="normal"><text x="0" y="0" font-size="16.3" textLength="94.0" lengthAdjust="spacing" xml:space="preserve"><tspan><tspan font-style="italic">ν</tspan>=1 </tspan><tspan font-style="italic">η</tspan><tspan font-size="10.5" dy="4.2" stroke="#000" stroke-width="0.3">c</tspan><tspan dy="-4.2">=0.5</tspan></text></g><g transform="translate(809.0 344.2) rotate(90)" font-style="normal"><text x="0" y="0" font-size="16.3" textLength="78.0" lengthAdjust="spacing" xml:space="preserve"><tspan><tspan font-style="italic">ν</tspan>=0 </tspan><tspan font-style="italic">η</tspan><tspan font-size="10.5" dy="4.2" stroke="#000" stroke-width="0.3">c</tspan><tspan dy="-4.2">=1</tspan></text></g><g transform="translate(809.0 474.6) rotate(90)" font-style="normal"><text x="0" y="0" font-size="16.3" textLength="92.0" lengthAdjust="spacing" xml:space="preserve"><tspan><tspan font-style="italic">ν</tspan>=0 </tspan><tspan font-style="italic">η</tspan><tspan font-size="10.5" dy="4.2" stroke="#000" stroke-width="0.3">c</tspan><tspan dy="-4.2">=0.5</tspan></text></g><g transform="translate(809.0 612.1) rotate(90)" font-style="normal"><text x="0" y="0" font-size="16.3" textLength="92.0" lengthAdjust="spacing" xml:space="preserve"><tspan><tspan font-style="italic">ν</tspan>=−1 </tspan><tspan font-style="italic">η</tspan><tspan font-size="10.5" dy="4.2" stroke="#000" stroke-width="0.3">c</tspan><tspan dy="-4.2">=1</tspan></text></g></g>
</svg>
</body></html>
